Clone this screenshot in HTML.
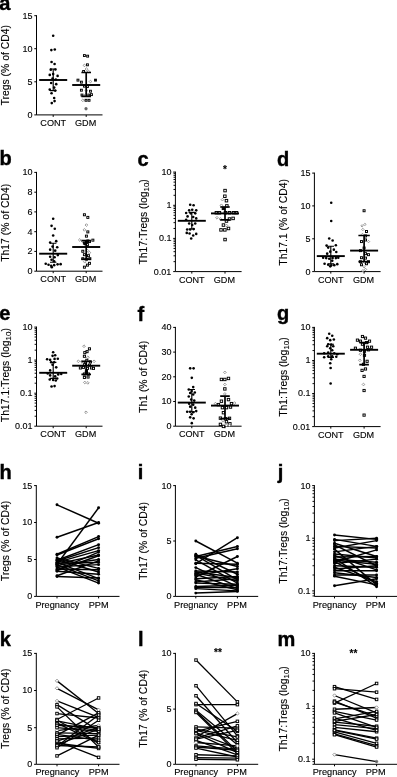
<!DOCTYPE html>
<html lang="en"><head><meta charset="utf-8"><title>Figure</title>
<style>html,body{margin:0;padding:0;background:#fff}svg{display:block}text{stroke:#000;stroke-width:.12px}</style></head><body>
<svg width="397" height="777" viewBox="0 0 397 777" font-family='"Liberation Sans", Arial, Helvetica, sans-serif' fill="#000">
<rect width="397" height="777" fill="#fff"/>
<g id="panel-a">
<path d="M36.5 15.2V114.9H102.5" fill="none" stroke="#000" stroke-width="1"/>
<path d="M34.3 15.7H36.5" stroke="#000" stroke-width="1"/>
<text x="32.5" y="18.6" font-size="9.0" text-anchor="end" font-weight="normal" >15</text>
<path d="M34.3 48.7H36.5" stroke="#000" stroke-width="1"/>
<text x="32.5" y="51.6" font-size="9.0" text-anchor="end" font-weight="normal" >10</text>
<path d="M34.3 81.8H36.5" stroke="#000" stroke-width="1"/>
<text x="32.5" y="84.7" font-size="9.0" text-anchor="end" font-weight="normal" >5</text>
<path d="M34.3 114.9H36.5" stroke="#000" stroke-width="1"/>
<text x="32.5" y="117.8" font-size="9.0" text-anchor="end" font-weight="normal" >0</text>
<path d="M53.2 114.9V116.9" stroke="#000" stroke-width="1"/>
<path d="M86.2 114.9V116.9" stroke="#000" stroke-width="1"/>
<circle cx="53.17" cy="35.79" r="1.3" fill="#000"/>
<circle cx="51.36" cy="50.1" r="1.3" fill="#000"/>
<circle cx="54.79" cy="49.5" r="1.3" fill="#000"/>
<circle cx="51.56" cy="61.99" r="1.3" fill="#000"/>
<circle cx="54.58" cy="64.01" r="1.3" fill="#000"/>
<circle cx="50.76" cy="69.65" r="1.3" fill="#000"/>
<circle cx="55.39" cy="69.45" r="1.3" fill="#000"/>
<circle cx="49.75" cy="74.89" r="1.3" fill="#000"/>
<circle cx="57.61" cy="75.89" r="1.3" fill="#000"/>
<circle cx="53.17" cy="74.08" r="1.3" fill="#000"/>
<circle cx="52.57" cy="78.51" r="1.3" fill="#000"/>
<circle cx="55.79" cy="79.52" r="1.3" fill="#000"/>
<circle cx="51.16" cy="82.95" r="1.3" fill="#000"/>
<circle cx="56.2" cy="84.16" r="1.3" fill="#000"/>
<circle cx="54.18" cy="87.58" r="1.3" fill="#000"/>
<circle cx="49.75" cy="89.6" r="1.3" fill="#000"/>
<circle cx="55.19" cy="90.6" r="1.3" fill="#000"/>
<circle cx="51.56" cy="93.22" r="1.3" fill="#000"/>
<circle cx="54.18" cy="98.06" r="1.3" fill="#000"/>
<circle cx="51.76" cy="103.1" r="1.3" fill="#000"/>
<circle cx="54.58" cy="101.08" r="1.3" fill="#000"/>
<rect x="83.46" y="54.59" width="1.9" height="1.9" fill="#fff" stroke="#000" stroke-width="0.95"/>
<rect x="86.68" y="55.2" width="1.9" height="1.9" fill="#fff" stroke="#000" stroke-width="0.95"/>
<rect x="86.48" y="63.86" width="1.9" height="1.9" fill="#fff" stroke="#000" stroke-width="0.95"/>
<path d="M83.06 65.42L84.41 64.07L85.76 65.42L84.41 66.77Z" fill="#fff" stroke="#7a7a7a" stroke-width="0.75"/>
<path d="M85.07 69.04L86.42 67.69L87.77 69.04L86.42 70.39Z" fill="#fff" stroke="#7a7a7a" stroke-width="0.75"/>
<rect x="82.65" y="70.51" width="1.9" height="1.9" fill="#fff" stroke="#000" stroke-width="0.95"/>
<path d="M87.09 71.46L88.44 70.11L89.79 71.46L88.44 72.81Z" fill="#fff" stroke="#7a7a7a" stroke-width="0.75"/>
<rect x="77.01" y="79.18" width="1.9" height="1.9" fill="#fff" stroke="#000" stroke-width="0.95"/>
<rect x="94.54" y="79.18" width="1.9" height="1.9" fill="#fff" stroke="#000" stroke-width="0.95"/>
<rect x="80.44" y="81.19" width="1.9" height="1.9" fill="#fff" stroke="#000" stroke-width="0.95"/>
<path d="M89.1 81.54L90.45 80.19L91.8 81.54L90.45 82.89Z" fill="#fff" stroke="#7a7a7a" stroke-width="0.75"/>
<rect x="83.46" y="85.22" width="1.9" height="1.9" fill="#fff" stroke="#000" stroke-width="0.95"/>
<rect x="86.48" y="85.62" width="1.9" height="1.9" fill="#fff" stroke="#000" stroke-width="0.95"/>
<rect x="80.44" y="89.25" width="1.9" height="1.9" fill="#fff" stroke="#000" stroke-width="0.95"/>
<path d="M85.07 90.6L86.42 89.25L87.77 90.6L86.42 91.95Z" fill="#fff" stroke="#7a7a7a" stroke-width="0.75"/>
<rect x="89.5" y="90.26" width="1.9" height="1.9" fill="#fff" stroke="#000" stroke-width="0.95"/>
<rect x="81.04" y="94.09" width="1.9" height="1.9" fill="#fff" stroke="#000" stroke-width="0.95"/>
<path d="M84.07 95.04L85.42 93.69L86.77 95.04L85.42 96.39Z" fill="#fff" stroke="#7a7a7a" stroke-width="0.75"/>
<rect x="87.89" y="94.09" width="1.9" height="1.9" fill="#fff" stroke="#000" stroke-width="0.95"/>
<rect x="90.51" y="93.68" width="1.9" height="1.9" fill="#fff" stroke="#000" stroke-width="0.95"/>
<path d="M81.45 100.28L82.8 98.93L84.15 100.28L82.8 101.63Z" fill="#fff" stroke="#7a7a7a" stroke-width="0.75"/>
<rect x="85.07" y="99.33" width="1.9" height="1.9" fill="#fff" stroke="#000" stroke-width="0.95"/>
<rect x="88.09" y="99.33" width="1.9" height="1.9" fill="#fff" stroke="#000" stroke-width="0.95"/>
<circle cx="86.02" cy="108.74" r="1.4" fill="#666" stroke="#666" stroke-width="0.4"/>
<path d="M39.2 80H67.2" stroke="#000" stroke-width="1.9"/>
<path d="M53.2 69V90.6M50 69H56.4M50 90.6H56.4" stroke="#000" stroke-width="1.15" fill="none"/>
<path d="M72.2 85H100.2" stroke="#000" stroke-width="1.9"/>
<path d="M86.2 72.5V96.3M81.4 72.5H91M81.4 96.3H91" stroke="#000" stroke-width="1.7" fill="none"/>
<text x="53.2" y="125.9" font-size="9.1" text-anchor="middle" font-weight="normal" >CONT</text>
<text x="85.6" y="125.9" font-size="9.1" text-anchor="middle" font-weight="normal" >GDM</text>
<text transform="translate(8.8 65.3) rotate(-90)" font-size="10.4" text-anchor="middle">Tregs (% of CD4)</text>
<text x="-0.7" y="10.1" font-size="20" text-anchor="start" font-weight="bold" style="stroke-width:.4px">a</text>
</g>
<g id="panel-b">
<path d="M36.5 171.9V271.2H102.5" fill="none" stroke="#000" stroke-width="1"/>
<path d="M34.3 172.4H36.5" stroke="#000" stroke-width="1"/>
<text x="32.5" y="175.3" font-size="9.0" text-anchor="end" font-weight="normal" >10</text>
<path d="M34.3 192.2H36.5" stroke="#000" stroke-width="1"/>
<text x="32.5" y="195.1" font-size="9.0" text-anchor="end" font-weight="normal" >8</text>
<path d="M34.3 211.9H36.5" stroke="#000" stroke-width="1"/>
<text x="32.5" y="214.8" font-size="9.0" text-anchor="end" font-weight="normal" >6</text>
<path d="M34.3 231.7H36.5" stroke="#000" stroke-width="1"/>
<text x="32.5" y="234.6" font-size="9.0" text-anchor="end" font-weight="normal" >4</text>
<path d="M34.3 251.4H36.5" stroke="#000" stroke-width="1"/>
<text x="32.5" y="254.3" font-size="9.0" text-anchor="end" font-weight="normal" >2</text>
<path d="M34.3 271.2H36.5" stroke="#000" stroke-width="1"/>
<text x="32.5" y="274.1" font-size="9.0" text-anchor="end" font-weight="normal" >0</text>
<path d="M53.2 271.2V273.2" stroke="#000" stroke-width="1"/>
<path d="M86.2 271.2V273.2" stroke="#000" stroke-width="1"/>
<circle cx="53.17" cy="218.8" r="1.3" fill="#000"/>
<circle cx="51.56" cy="225.86" r="1.3" fill="#000"/>
<circle cx="54.79" cy="228.68" r="1.3" fill="#000"/>
<circle cx="53.17" cy="235.53" r="1.3" fill="#000"/>
<circle cx="56.2" cy="241.17" r="1.3" fill="#000"/>
<circle cx="50.15" cy="242.58" r="1.3" fill="#000"/>
<circle cx="52.57" cy="246.61" r="1.3" fill="#000"/>
<circle cx="57.2" cy="247.22" r="1.3" fill="#000"/>
<circle cx="50.15" cy="249.63" r="1.3" fill="#000"/>
<circle cx="55.19" cy="250.64" r="1.3" fill="#000"/>
<circle cx="57.81" cy="255.08" r="1.3" fill="#000"/>
<circle cx="50.15" cy="256.69" r="1.3" fill="#000"/>
<circle cx="54.58" cy="257.29" r="1.3" fill="#000"/>
<circle cx="51.56" cy="259.71" r="1.3" fill="#000"/>
<circle cx="54.18" cy="261.32" r="1.3" fill="#000"/>
<circle cx="45.72" cy="263.74" r="1.3" fill="#000"/>
<circle cx="48.54" cy="264.75" r="1.3" fill="#000"/>
<circle cx="51.16" cy="265.76" r="1.3" fill="#000"/>
<circle cx="54.18" cy="265.15" r="1.3" fill="#000"/>
<circle cx="57.61" cy="264.35" r="1.3" fill="#000"/>
<circle cx="60.63" cy="264.14" r="1.3" fill="#000"/>
<circle cx="51.76" cy="267.17" r="1.3" fill="#000"/>
<rect x="83.41" y="213.77" width="2.0" height="2.0" fill="#fff" stroke="#000" stroke-width="0.95"/>
<rect x="86.83" y="216.39" width="2.0" height="2.0" fill="#fff" stroke="#000" stroke-width="0.95"/>
<path d="M85.07 225.05L86.42 223.7L87.77 225.05L86.42 226.4Z" fill="#fff" stroke="#7a7a7a" stroke-width="0.75"/>
<path d="M83.06 229.89L84.41 228.54L85.76 229.89L84.41 231.24Z" fill="#fff" stroke="#7a7a7a" stroke-width="0.75"/>
<rect x="86.83" y="230.9" width="2.0" height="2.0" fill="#fff" stroke="#000" stroke-width="0.95"/>
<rect x="85.42" y="235.13" width="2.0" height="2.0" fill="#fff" stroke="#000" stroke-width="0.95"/>
<path d="M78.42 239.96L79.77 238.61L81.12 239.96L79.77 241.31Z" fill="#fff" stroke="#7a7a7a" stroke-width="0.75"/>
<path d="M81.45 241.57L82.8 240.22L84.15 241.57L82.8 242.92Z" fill="#fff" stroke="#7a7a7a" stroke-width="0.75"/>
<rect x="88.45" y="240.57" width="2.0" height="2.0" fill="#fff" stroke="#000" stroke-width="0.95"/>
<rect x="91.87" y="239.16" width="2.0" height="2.0" fill="#fff" stroke="#000" stroke-width="0.95"/>
<rect x="83.41" y="242.19" width="2.0" height="2.0" fill="#fff" stroke="#000" stroke-width="0.95"/>
<rect x="85.42" y="240.98" width="2.0" height="2.0" fill="#000" stroke="#000" stroke-width="0.95"/>
<rect x="84.42" y="242.79" width="2.0" height="2.0" fill="#000" stroke="#000" stroke-width="0.95"/>
<rect x="86.83" y="239.97" width="2.0" height="2.0" fill="#000" stroke="#000" stroke-width="0.95"/>
<rect x="86.43" y="243.6" width="2.0" height="2.0" fill="#fff" stroke="#000" stroke-width="0.95"/>
<rect x="81.8" y="250.25" width="2.0" height="2.0" fill="#fff" stroke="#000" stroke-width="0.95"/>
<path d="M86.08 250.64L87.43 249.29L88.78 250.64L87.43 251.99Z" fill="#fff" stroke="#7a7a7a" stroke-width="0.75"/>
<path d="M88.1 252.66L89.45 251.31L90.8 252.66L89.45 254.01Z" fill="#fff" stroke="#7a7a7a" stroke-width="0.75"/>
<rect x="83.41" y="253.67" width="2.0" height="2.0" fill="#fff" stroke="#000" stroke-width="0.95"/>
<rect x="87.44" y="254.68" width="2.0" height="2.0" fill="#fff" stroke="#000" stroke-width="0.95"/>
<rect x="81.8" y="257.7" width="2.0" height="2.0" fill="#fff" stroke="#000" stroke-width="0.95"/>
<rect x="85.42" y="258.31" width="2.0" height="2.0" fill="#fff" stroke="#000" stroke-width="0.95"/>
<rect x="88.85" y="257.7" width="2.0" height="2.0" fill="#fff" stroke="#000" stroke-width="0.95"/>
<path d="M83.46 261.73L84.81 260.38L86.16 261.73L84.81 263.08Z" fill="#fff" stroke="#7a7a7a" stroke-width="0.75"/>
<rect x="88.45" y="262.34" width="2.0" height="2.0" fill="#fff" stroke="#000" stroke-width="0.95"/>
<rect x="86.43" y="264.15" width="2.0" height="2.0" fill="#fff" stroke="#000" stroke-width="0.95"/>
<rect x="83.41" y="266.17" width="2.0" height="2.0" fill="#fff" stroke="#000" stroke-width="0.95"/>
<path d="M39.2 253.7H67.2" stroke="#000" stroke-width="1.9"/>
<path d="M53.2 243.2V262.2M50 243.2H56.4M50 262.2H56.4" stroke="#000" stroke-width="1.15" fill="none"/>
<path d="M72.2 247H100.2" stroke="#000" stroke-width="1.9"/>
<path d="M86.2 240.6V259.2M81.4 240.6H91M81.4 259.2H91" stroke="#000" stroke-width="1.7" fill="none"/>
<text x="53.2" y="282.2" font-size="9.1" text-anchor="middle" font-weight="normal" >CONT</text>
<text x="85.6" y="282.2" font-size="9.1" text-anchor="middle" font-weight="normal" >GDM</text>
<text transform="translate(8.8 222.8) rotate(-90)" font-size="10.4" text-anchor="middle">Th17 (% of CD4)</text>
<text x="-0.5" y="165.3" font-size="20" text-anchor="start" font-weight="bold" style="stroke-width:.4px">b</text>
</g>
<g id="panel-c">
<path d="M175.4 171.6V271.6H241.6" fill="none" stroke="#000" stroke-width="1"/>
<path d="M173.2 172.1H175.4" stroke="#000" stroke-width="1"/>
<text x="171.4" y="175" font-size="9.0" text-anchor="end" font-weight="normal" >10</text>
<path d="M173.2 205.3H175.4" stroke="#000" stroke-width="1"/>
<text x="171.4" y="208.2" font-size="9.0" text-anchor="end" font-weight="normal" >1</text>
<path d="M173.2 238.4H175.4" stroke="#000" stroke-width="1"/>
<text x="171.4" y="241.3" font-size="9.0" text-anchor="end" font-weight="normal" >0.1</text>
<path d="M173.2 271.6H175.4" stroke="#000" stroke-width="1"/>
<text x="171.4" y="274.5" font-size="9.0" text-anchor="end" font-weight="normal" >0.01</text>
<path d="M173.5 261.65H175.4" stroke="#000" stroke-width="0.95"/>
<path d="M173.5 255.81H175.4" stroke="#000" stroke-width="0.95"/>
<path d="M173.5 251.67H175.4" stroke="#000" stroke-width="0.95"/>
<path d="M173.5 248.46H175.4" stroke="#000" stroke-width="0.95"/>
<path d="M173.5 245.83H175.4" stroke="#000" stroke-width="0.95"/>
<path d="M173.5 243.61H175.4" stroke="#000" stroke-width="0.95"/>
<path d="M173.5 241.68H175.4" stroke="#000" stroke-width="0.95"/>
<path d="M173.5 239.99H175.4" stroke="#000" stroke-width="0.95"/>
<path d="M173.5 228.48H175.4" stroke="#000" stroke-width="0.95"/>
<path d="M173.5 222.64H175.4" stroke="#000" stroke-width="0.95"/>
<path d="M173.5 218.5H175.4" stroke="#000" stroke-width="0.95"/>
<path d="M173.5 215.29H175.4" stroke="#000" stroke-width="0.95"/>
<path d="M173.5 212.66H175.4" stroke="#000" stroke-width="0.95"/>
<path d="M173.5 210.44H175.4" stroke="#000" stroke-width="0.95"/>
<path d="M173.5 208.51H175.4" stroke="#000" stroke-width="0.95"/>
<path d="M173.5 206.82H175.4" stroke="#000" stroke-width="0.95"/>
<path d="M173.5 195.31H175.4" stroke="#000" stroke-width="0.95"/>
<path d="M173.5 189.47H175.4" stroke="#000" stroke-width="0.95"/>
<path d="M173.5 185.33H175.4" stroke="#000" stroke-width="0.95"/>
<path d="M173.5 182.12H175.4" stroke="#000" stroke-width="0.95"/>
<path d="M173.5 179.49H175.4" stroke="#000" stroke-width="0.95"/>
<path d="M173.5 177.27H175.4" stroke="#000" stroke-width="0.95"/>
<path d="M173.5 175.34H175.4" stroke="#000" stroke-width="0.95"/>
<path d="M173.5 173.65H175.4" stroke="#000" stroke-width="0.95"/>
<path d="M191.8 271.6V273.6" stroke="#000" stroke-width="1"/>
<path d="M225 271.6V273.6" stroke="#000" stroke-width="1"/>
<circle cx="190.19" cy="204.7" r="1.3" fill="#000"/>
<circle cx="193.61" cy="205.3" r="1.3" fill="#000"/>
<circle cx="189.18" cy="210.34" r="1.3" fill="#000"/>
<circle cx="192.2" cy="209.74" r="1.3" fill="#000"/>
<circle cx="196.23" cy="210.34" r="1.3" fill="#000"/>
<circle cx="186.16" cy="212.96" r="1.3" fill="#000"/>
<circle cx="190.79" cy="213.36" r="1.3" fill="#000"/>
<circle cx="195.23" cy="213.36" r="1.3" fill="#000"/>
<circle cx="187.57" cy="216.39" r="1.3" fill="#000"/>
<circle cx="193.21" cy="216.99" r="1.3" fill="#000"/>
<circle cx="196.23" cy="218.4" r="1.3" fill="#000"/>
<circle cx="186.16" cy="219.81" r="1.3" fill="#000"/>
<circle cx="189.18" cy="223.44" r="1.3" fill="#000"/>
<circle cx="195.23" cy="223.44" r="1.3" fill="#000"/>
<circle cx="192.2" cy="225.05" r="1.3" fill="#000"/>
<circle cx="187.17" cy="229.48" r="1.3" fill="#000"/>
<circle cx="190.19" cy="229.48" r="1.3" fill="#000"/>
<circle cx="193.61" cy="229.08" r="1.3" fill="#000"/>
<circle cx="186.76" cy="232.91" r="1.3" fill="#000"/>
<circle cx="189.58" cy="233.51" r="1.3" fill="#000"/>
<circle cx="196.23" cy="233.92" r="1.3" fill="#000"/>
<circle cx="193.21" cy="235.53" r="1.3" fill="#000"/>
<circle cx="191.2" cy="238.55" r="1.3" fill="#000"/>
<rect x="223.8" y="189.34" width="2.5" height="2.5" fill="#fff" stroke="#000" stroke-width="0.95"/>
<rect x="223.6" y="194.98" width="2.5" height="2.5" fill="#fff" stroke="#000" stroke-width="0.95"/>
<path d="M221.08 199.66L222.43 198.31L223.78 199.66L222.43 201.01Z" fill="#fff" stroke="#7a7a7a" stroke-width="0.75"/>
<rect x="225.21" y="199.42" width="2.5" height="2.5" fill="#fff" stroke="#000" stroke-width="0.95"/>
<path d="M220.07 205.3L221.42 203.95L222.77 205.3L221.42 206.65Z" fill="#fff" stroke="#7a7a7a" stroke-width="0.75"/>
<rect x="225.61" y="204.66" width="2.5" height="2.5" fill="#fff" stroke="#000" stroke-width="0.95"/>
<rect x="222.19" y="207.07" width="2.5" height="2.5" fill="#000" stroke="#000" stroke-width="0.95"/>
<rect x="215.14" y="211.51" width="2.5" height="2.5" fill="#fff" stroke="#000" stroke-width="0.95"/>
<rect x="218.16" y="211.51" width="2.5" height="2.5" fill="#fff" stroke="#000" stroke-width="0.95"/>
<rect x="224.2" y="211.51" width="2.5" height="2.5" fill="#fff" stroke="#000" stroke-width="0.95"/>
<rect x="228.23" y="211.51" width="2.5" height="2.5" fill="#fff" stroke="#000" stroke-width="0.95"/>
<rect x="232.26" y="211.51" width="2.5" height="2.5" fill="#fff" stroke="#000" stroke-width="0.95"/>
<rect x="235.29" y="211.51" width="2.5" height="2.5" fill="#fff" stroke="#000" stroke-width="0.95"/>
<path d="M215.64 217.8L216.99 216.45L218.34 217.8L216.99 219.15Z" fill="#fff" stroke="#7a7a7a" stroke-width="0.75"/>
<path d="M219.07 219.01L220.42 217.66L221.77 219.01L220.42 220.36Z" fill="#fff" stroke="#7a7a7a" stroke-width="0.75"/>
<rect x="228.23" y="217.76" width="2.5" height="2.5" fill="#fff" stroke="#000" stroke-width="0.95"/>
<rect x="231.86" y="217.15" width="2.5" height="2.5" fill="#fff" stroke="#000" stroke-width="0.95"/>
<rect x="225.21" y="219.77" width="2.5" height="2.5" fill="#fff" stroke="#000" stroke-width="0.95"/>
<rect x="222.19" y="223.8" width="2.5" height="2.5" fill="#fff" stroke="#000" stroke-width="0.95"/>
<path d="M225.11 225.45L226.46 224.1L227.81 225.45L226.46 226.8Z" fill="#fff" stroke="#7a7a7a" stroke-width="0.75"/>
<rect x="219.77" y="228.64" width="2.5" height="2.5" fill="#fff" stroke="#000" stroke-width="0.95"/>
<rect x="223.6" y="228.64" width="2.5" height="2.5" fill="#fff" stroke="#000" stroke-width="0.95"/>
<rect x="227.23" y="227.23" width="2.5" height="2.5" fill="#fff" stroke="#000" stroke-width="0.95"/>
<rect x="223.8" y="238.31" width="2.5" height="2.5" fill="#fff" stroke="#000" stroke-width="0.95"/>
<path d="M177.8 220.8H205.8" stroke="#000" stroke-width="1.9"/>
<path d="M191.8 212.4V229M188.6 212.4H195M188.6 229H195" stroke="#000" stroke-width="1.15" fill="none"/>
<path d="M211 213.4H239" stroke="#000" stroke-width="1.9"/>
<path d="M225 207V219.8M220.2 207H229.8M220.2 219.8H229.8" stroke="#000" stroke-width="1.7" fill="none"/>
<text x="191.8" y="282.6" font-size="9.1" text-anchor="middle" font-weight="normal" >CONT</text>
<text x="224.4" y="282.6" font-size="9.1" text-anchor="middle" font-weight="normal" >GDM</text>
<text transform="translate(146.5 221.85) rotate(-90)" font-size="10.4" text-anchor="middle">Th17:Tregs (log<tspan font-size="8" dy="2.2">10</tspan><tspan dy="-2.2">)</tspan></text>
<text x="137.4" y="166.3" font-size="20" text-anchor="start" font-weight="bold" style="stroke-width:.4px">c</text>
<text x="225" y="172.5" font-size="10" text-anchor="middle" font-weight="bold" >*</text>
</g>
<g id="panel-d">
<path d="M314.4 172.6V271.6H380.6" fill="none" stroke="#000" stroke-width="1"/>
<path d="M312.2 173.1H314.4" stroke="#000" stroke-width="1"/>
<text x="310.4" y="176" font-size="9.0" text-anchor="end" font-weight="normal" >15</text>
<path d="M312.2 205.9H314.4" stroke="#000" stroke-width="1"/>
<text x="310.4" y="208.8" font-size="9.0" text-anchor="end" font-weight="normal" >10</text>
<path d="M312.2 238.8H314.4" stroke="#000" stroke-width="1"/>
<text x="310.4" y="241.7" font-size="9.0" text-anchor="end" font-weight="normal" >5</text>
<path d="M312.2 271.6H314.4" stroke="#000" stroke-width="1"/>
<text x="310.4" y="274.5" font-size="9.0" text-anchor="end" font-weight="normal" >0</text>
<path d="M330.8 271.6V273.6" stroke="#000" stroke-width="1"/>
<path d="M364.1 271.6V273.6" stroke="#000" stroke-width="1"/>
<circle cx="331.23" cy="202.68" r="1.3" fill="#000"/>
<circle cx="331.23" cy="221.02" r="1.3" fill="#000"/>
<circle cx="329.22" cy="238.55" r="1.3" fill="#000"/>
<circle cx="332.64" cy="240.57" r="1.3" fill="#000"/>
<circle cx="326.6" cy="245.6" r="1.3" fill="#000"/>
<circle cx="335.87" cy="245.2" r="1.3" fill="#000"/>
<circle cx="328.21" cy="247.62" r="1.3" fill="#000"/>
<circle cx="333.85" cy="249.63" r="1.3" fill="#000"/>
<circle cx="330.23" cy="251.65" r="1.3" fill="#000"/>
<circle cx="327.2" cy="253.66" r="1.3" fill="#000"/>
<circle cx="336.27" cy="252.05" r="1.3" fill="#000"/>
<circle cx="323.17" cy="257.7" r="1.3" fill="#000"/>
<circle cx="326.2" cy="258.1" r="1.3" fill="#000"/>
<circle cx="329.22" cy="258.7" r="1.3" fill="#000"/>
<circle cx="332.64" cy="258.1" r="1.3" fill="#000"/>
<circle cx="335.87" cy="258.1" r="1.3" fill="#000"/>
<circle cx="338.29" cy="257.7" r="1.3" fill="#000"/>
<circle cx="332.24" cy="260.72" r="1.3" fill="#000"/>
<circle cx="324.58" cy="263.74" r="1.3" fill="#000"/>
<circle cx="328.21" cy="264.75" r="1.3" fill="#000"/>
<circle cx="331.23" cy="265.35" r="1.3" fill="#000"/>
<circle cx="334.26" cy="265.15" r="1.3" fill="#000"/>
<circle cx="337.28" cy="264.14" r="1.3" fill="#000"/>
<circle cx="330.23" cy="266.36" r="1.3" fill="#000"/>
<rect x="363.08" y="209.74" width="2.0" height="2.0" fill="#fff" stroke="#000" stroke-width="0.95"/>
<path d="M363.69 224.45L364.89 223.25L366.09 224.45L364.89 225.65Z" fill="#fff" stroke="#7a7a7a" stroke-width="0.75"/>
<path d="M360.87 225.86L362.07 224.66L363.27 225.86L362.07 227.06Z" fill="#fff" stroke="#7a7a7a" stroke-width="0.75"/>
<path d="M361.67 229.48L362.87 228.28L364.07 229.48L362.87 230.68Z" fill="#fff" stroke="#7a7a7a" stroke-width="0.75"/>
<rect x="365.5" y="230.5" width="2.0" height="2.0" fill="#fff" stroke="#000" stroke-width="0.95"/>
<path d="M361.27 234.52L362.47 233.32L363.67 234.52L362.47 235.72Z" fill="#fff" stroke="#7a7a7a" stroke-width="0.75"/>
<rect x="364.49" y="234.93" width="2.0" height="2.0" fill="#fff" stroke="#000" stroke-width="0.95"/>
<rect x="364.49" y="238.96" width="2.0" height="2.0" fill="#fff" stroke="#000" stroke-width="0.95"/>
<rect x="360.46" y="240.57" width="2.0" height="2.0" fill="#fff" stroke="#000" stroke-width="0.95"/>
<path d="M367.31 241.57L368.51 240.37L369.71 241.57L368.51 242.77Z" fill="#fff" stroke="#7a7a7a" stroke-width="0.75"/>
<rect x="363.08" y="247.02" width="2.0" height="2.0" fill="#fff" stroke="#000" stroke-width="0.95"/>
<rect x="359.45" y="249.64" width="2.0" height="2.0" fill="#fff" stroke="#000" stroke-width="0.95"/>
<rect x="364.49" y="252.66" width="2.0" height="2.0" fill="#fff" stroke="#000" stroke-width="0.95"/>
<rect x="367.51" y="253.67" width="2.0" height="2.0" fill="#fff" stroke="#000" stroke-width="0.95"/>
<rect x="360.46" y="256.7" width="2.0" height="2.0" fill="#fff" stroke="#000" stroke-width="0.95"/>
<rect x="364.49" y="257.1" width="2.0" height="2.0" fill="#fff" stroke="#000" stroke-width="0.95"/>
<rect x="359.45" y="260.73" width="2.0" height="2.0" fill="#fff" stroke="#000" stroke-width="0.95"/>
<path d="M363.28 262.33L364.48 261.13L365.68 262.33L364.48 263.53Z" fill="#fff" stroke="#7a7a7a" stroke-width="0.75"/>
<rect x="367.51" y="260.73" width="2.0" height="2.0" fill="#fff" stroke="#000" stroke-width="0.95"/>
<rect x="360.46" y="263.75" width="2.0" height="2.0" fill="#fff" stroke="#000" stroke-width="0.95"/>
<rect x="365.5" y="262.74" width="2.0" height="2.0" fill="#fff" stroke="#000" stroke-width="0.95"/>
<path d="M362.88 266.76L364.08 265.56L365.28 266.76L364.08 267.96Z" fill="#fff" stroke="#7a7a7a" stroke-width="0.75"/>
<path d="M364.29 269.38L365.49 268.18L366.69 269.38L365.49 270.58Z" fill="#fff" stroke="#7a7a7a" stroke-width="0.75"/>
<path d="M361.67 270.79L362.87 269.59L364.07 270.79L362.87 271.99Z" fill="#fff" stroke="#7a7a7a" stroke-width="0.75"/>
<path d="M316.8 256.1H344.8" stroke="#000" stroke-width="1.9"/>
<path d="M330.8 246.2V263.8M327.6 246.2H334M327.6 263.8H334" stroke="#000" stroke-width="1.15" fill="none"/>
<path d="M350.1 250.6H378.1" stroke="#000" stroke-width="1.9"/>
<path d="M364.1 235.5V261.7M358.4 235.5H369.8M358.4 261.7H369.8" stroke="#000" stroke-width="1.7" fill="none"/>
<text x="330.8" y="282.6" font-size="9.1" text-anchor="middle" font-weight="normal" >CONT</text>
<text x="363.5" y="282.6" font-size="9.1" text-anchor="middle" font-weight="normal" >GDM</text>
<text transform="translate(287.3 222.35) rotate(-90)" font-size="10.4" text-anchor="middle">Th17.1 (% of CD4)</text>
<text x="277" y="166" font-size="20" text-anchor="start" font-weight="bold" style="stroke-width:.4px">d</text>
</g>
<g id="panel-e">
<path d="M36.5 326.6V426.2H102.5" fill="none" stroke="#000" stroke-width="1"/>
<path d="M34.3 327.1H36.5" stroke="#000" stroke-width="1"/>
<text x="32.5" y="330" font-size="9.0" text-anchor="end" font-weight="normal" >10</text>
<path d="M34.3 360.1H36.5" stroke="#000" stroke-width="1"/>
<text x="32.5" y="363" font-size="9.0" text-anchor="end" font-weight="normal" >1</text>
<path d="M34.3 393.2H36.5" stroke="#000" stroke-width="1"/>
<text x="32.5" y="396.1" font-size="9.0" text-anchor="end" font-weight="normal" >0.1</text>
<path d="M34.3 426.2H36.5" stroke="#000" stroke-width="1"/>
<text x="32.5" y="429.1" font-size="9.0" text-anchor="end" font-weight="normal" >0.01</text>
<path d="M34.6 416.22H36.5" stroke="#000" stroke-width="0.95"/>
<path d="M34.6 410.4H36.5" stroke="#000" stroke-width="0.95"/>
<path d="M34.6 406.27H36.5" stroke="#000" stroke-width="0.95"/>
<path d="M34.6 403.07H36.5" stroke="#000" stroke-width="0.95"/>
<path d="M34.6 400.46H36.5" stroke="#000" stroke-width="0.95"/>
<path d="M34.6 398.25H36.5" stroke="#000" stroke-width="0.95"/>
<path d="M34.6 396.33H36.5" stroke="#000" stroke-width="0.95"/>
<path d="M34.6 394.64H36.5" stroke="#000" stroke-width="0.95"/>
<path d="M34.6 383.19H36.5" stroke="#000" stroke-width="0.95"/>
<path d="M34.6 377.37H36.5" stroke="#000" stroke-width="0.95"/>
<path d="M34.6 373.24H36.5" stroke="#000" stroke-width="0.95"/>
<path d="M34.6 370.04H36.5" stroke="#000" stroke-width="0.95"/>
<path d="M34.6 367.43H36.5" stroke="#000" stroke-width="0.95"/>
<path d="M34.6 365.22H36.5" stroke="#000" stroke-width="0.95"/>
<path d="M34.6 363.3H36.5" stroke="#000" stroke-width="0.95"/>
<path d="M34.6 361.61H36.5" stroke="#000" stroke-width="0.95"/>
<path d="M34.6 350.16H36.5" stroke="#000" stroke-width="0.95"/>
<path d="M34.6 344.34H36.5" stroke="#000" stroke-width="0.95"/>
<path d="M34.6 340.21H36.5" stroke="#000" stroke-width="0.95"/>
<path d="M34.6 337.01H36.5" stroke="#000" stroke-width="0.95"/>
<path d="M34.6 334.4H36.5" stroke="#000" stroke-width="0.95"/>
<path d="M34.6 332.19H36.5" stroke="#000" stroke-width="0.95"/>
<path d="M34.6 330.27H36.5" stroke="#000" stroke-width="0.95"/>
<path d="M34.6 328.58H36.5" stroke="#000" stroke-width="0.95"/>
<path d="M53.2 426.2V428.2" stroke="#000" stroke-width="1"/>
<path d="M86.2 426.2V428.2" stroke="#000" stroke-width="1"/>
<circle cx="53.17" cy="352.24" r="1.3" fill="#000"/>
<circle cx="52.57" cy="355.87" r="1.3" fill="#000"/>
<circle cx="55.19" cy="355.26" r="1.3" fill="#000"/>
<circle cx="47.13" cy="359.29" r="1.3" fill="#000"/>
<circle cx="50.15" cy="359.9" r="1.3" fill="#000"/>
<circle cx="54.58" cy="358.89" r="1.3" fill="#000"/>
<circle cx="57.81" cy="358.69" r="1.3" fill="#000"/>
<circle cx="51.16" cy="362.32" r="1.3" fill="#000"/>
<circle cx="54.18" cy="362.32" r="1.3" fill="#000"/>
<circle cx="52.57" cy="364.74" r="1.3" fill="#000"/>
<circle cx="56.2" cy="367.36" r="1.3" fill="#000"/>
<circle cx="50.15" cy="370.38" r="1.3" fill="#000"/>
<circle cx="47.73" cy="373.4" r="1.3" fill="#000"/>
<circle cx="58.21" cy="374.41" r="1.3" fill="#000"/>
<circle cx="61.23" cy="374.01" r="1.3" fill="#000"/>
<circle cx="50.15" cy="375.42" r="1.3" fill="#000"/>
<circle cx="55.19" cy="376.42" r="1.3" fill="#000"/>
<circle cx="49.75" cy="379.45" r="1.3" fill="#000"/>
<circle cx="53.17" cy="380.05" r="1.3" fill="#000"/>
<circle cx="57.2" cy="378.44" r="1.3" fill="#000"/>
<circle cx="55.79" cy="380.45" r="1.3" fill="#000"/>
<circle cx="51.56" cy="386.5" r="1.3" fill="#000"/>
<circle cx="54.58" cy="386.1" r="1.3" fill="#000"/>
<path d="M82.66 346.2L84.01 344.85L85.36 346.2L84.01 347.55Z" fill="#fff" stroke="#7a7a7a" stroke-width="0.75"/>
<rect x="88.4" y="347.77" width="2.1" height="2.1" fill="#fff" stroke="#000" stroke-width="0.95"/>
<rect x="85.98" y="350.59" width="2.1" height="2.1" fill="#fff" stroke="#000" stroke-width="0.95"/>
<rect x="83.76" y="351.59" width="2.1" height="2.1" fill="#fff" stroke="#000" stroke-width="0.95"/>
<rect x="83.36" y="355.22" width="2.1" height="2.1" fill="#fff" stroke="#000" stroke-width="0.95"/>
<path d="M86.48 357.28L87.83 355.93L89.18 357.28L87.83 358.63Z" fill="#fff" stroke="#7a7a7a" stroke-width="0.75"/>
<path d="M77.01 361.31L78.36 359.96L79.71 361.31L78.36 362.66Z" fill="#fff" stroke="#7a7a7a" stroke-width="0.75"/>
<path d="M80.64 361.91L81.99 360.56L83.34 361.91L81.99 363.26Z" fill="#fff" stroke="#7a7a7a" stroke-width="0.75"/>
<rect x="84.37" y="361.27" width="2.1" height="2.1" fill="#fff" stroke="#000" stroke-width="0.95"/>
<rect x="89.4" y="360.86" width="2.1" height="2.1" fill="#fff" stroke="#000" stroke-width="0.95"/>
<path d="M92.73 361.31L94.08 359.96L95.43 361.31L94.08 362.66Z" fill="#fff" stroke="#7a7a7a" stroke-width="0.75"/>
<rect x="82.35" y="366.31" width="2.1" height="2.1" fill="#fff" stroke="#000" stroke-width="0.95"/>
<rect x="86.38" y="367.31" width="2.1" height="2.1" fill="#fff" stroke="#000" stroke-width="0.95"/>
<rect x="90.41" y="366.91" width="2.1" height="2.1" fill="#fff" stroke="#000" stroke-width="0.95"/>
<rect x="92.43" y="367.31" width="2.1" height="2.1" fill="#fff" stroke="#000" stroke-width="0.95"/>
<rect x="79.33" y="366.91" width="2.1" height="2.1" fill="#fff" stroke="#000" stroke-width="0.95"/>
<rect x="85.37" y="369.73" width="2.1" height="2.1" fill="#fff" stroke="#000" stroke-width="0.95"/>
<rect x="83.36" y="372.96" width="2.1" height="2.1" fill="#fff" stroke="#000" stroke-width="0.95"/>
<rect x="87.39" y="372.96" width="2.1" height="2.1" fill="#fff" stroke="#000" stroke-width="0.95"/>
<rect x="83.36" y="376.38" width="2.1" height="2.1" fill="#fff" stroke="#000" stroke-width="0.95"/>
<rect x="86.99" y="375.98" width="2.1" height="2.1" fill="#fff" stroke="#000" stroke-width="0.95"/>
<path d="M83.46 382.47L84.81 381.12L86.16 382.47L84.81 383.82Z" fill="#fff" stroke="#7a7a7a" stroke-width="0.75"/>
<path d="M86.48 382.87L87.83 381.52L89.18 382.87L87.83 384.22Z" fill="#fff" stroke="#7a7a7a" stroke-width="0.75"/>
<path d="M84.67 412.29L86.02 410.94L87.37 412.29L86.02 413.64Z" fill="#fff" stroke="#7a7a7a" stroke-width="0.75"/>
<rect x="83.36" y="363.69" width="2.1" height="2.1" fill="#fff" stroke="#000" stroke-width="0.95"/>
<rect x="88.4" y="364.09" width="2.1" height="2.1" fill="#fff" stroke="#000" stroke-width="0.95"/>
<rect x="85.78" y="359.25" width="2.1" height="2.1" fill="#fff" stroke="#000" stroke-width="0.95"/>
<rect x="85.37" y="371.75" width="2.1" height="2.1" fill="#000" stroke="#000" stroke-width="0.95"/>
<path d="M39.2 372.8H67.2" stroke="#000" stroke-width="1.9"/>
<path d="M53.2 362.3V378.4M50 362.3H56.4M50 378.4H56.4" stroke="#000" stroke-width="1.15" fill="none"/>
<path d="M72.2 365.7H100.2" stroke="#000" stroke-width="1.9"/>
<path d="M86.2 361.3V374.4M81.4 361.3H91M81.4 374.4H91" stroke="#000" stroke-width="1.7" fill="none"/>
<text x="53.2" y="437.2" font-size="9.1" text-anchor="middle" font-weight="normal" >CONT</text>
<text x="85.6" y="437.2" font-size="9.1" text-anchor="middle" font-weight="normal" >GDM</text>
<text transform="translate(8.8 375.15) rotate(-90)" font-size="10.4" text-anchor="middle">Th17.1:Tregs (log<tspan font-size="8" dy="2.2">10</tspan><tspan dy="-2.2">)</tspan></text>
<text x="-0.8" y="320.4" font-size="20" text-anchor="start" font-weight="bold" style="stroke-width:.4px">e</text>
</g>
<g id="panel-f">
<path d="M175.4 326.9V426.2H241.6" fill="none" stroke="#000" stroke-width="1"/>
<path d="M173.2 327.4H175.4" stroke="#000" stroke-width="1"/>
<text x="171.4" y="330.3" font-size="9.0" text-anchor="end" font-weight="normal" >40</text>
<path d="M173.2 352.1H175.4" stroke="#000" stroke-width="1"/>
<text x="171.4" y="355" font-size="9.0" text-anchor="end" font-weight="normal" >30</text>
<path d="M173.2 376.8H175.4" stroke="#000" stroke-width="1"/>
<text x="171.4" y="379.7" font-size="9.0" text-anchor="end" font-weight="normal" >20</text>
<path d="M173.2 401.5H175.4" stroke="#000" stroke-width="1"/>
<text x="171.4" y="404.4" font-size="9.0" text-anchor="end" font-weight="normal" >10</text>
<path d="M173.2 426.2H175.4" stroke="#000" stroke-width="1"/>
<text x="171.4" y="429.1" font-size="9.0" text-anchor="end" font-weight="normal" >0</text>
<path d="M191.8 426.2V428.2" stroke="#000" stroke-width="1"/>
<path d="M225 426.2V428.2" stroke="#000" stroke-width="1"/>
<circle cx="190.19" cy="368.36" r="1.3" fill="#000"/>
<circle cx="193.61" cy="368.36" r="1.3" fill="#000"/>
<circle cx="191.8" cy="377.83" r="1.3" fill="#000"/>
<circle cx="193.21" cy="387.1" r="1.3" fill="#000"/>
<circle cx="188.78" cy="389.52" r="1.3" fill="#000"/>
<circle cx="191.6" cy="390.93" r="1.3" fill="#000"/>
<circle cx="190.19" cy="392.95" r="1.3" fill="#000"/>
<circle cx="194.82" cy="392.54" r="1.3" fill="#000"/>
<circle cx="193.21" cy="394.56" r="1.3" fill="#000"/>
<circle cx="188.78" cy="396.57" r="1.3" fill="#000"/>
<circle cx="191.2" cy="399.6" r="1.3" fill="#000"/>
<circle cx="194.22" cy="400.6" r="1.3" fill="#000"/>
<circle cx="189.18" cy="403.63" r="1.3" fill="#000"/>
<circle cx="193.21" cy="404.63" r="1.3" fill="#000"/>
<circle cx="190.19" cy="406.65" r="1.3" fill="#000"/>
<circle cx="195.23" cy="407.66" r="1.3" fill="#000"/>
<circle cx="187.17" cy="411.69" r="1.3" fill="#000"/>
<circle cx="190.19" cy="411.69" r="1.3" fill="#000"/>
<circle cx="193.21" cy="412.29" r="1.3" fill="#000"/>
<circle cx="196.23" cy="411.08" r="1.3" fill="#000"/>
<circle cx="191.6" cy="414.31" r="1.3" fill="#000"/>
<circle cx="190.19" cy="417.33" r="1.3" fill="#000"/>
<circle cx="193.61" cy="418.34" r="1.3" fill="#000"/>
<circle cx="191.8" cy="423.17" r="1.3" fill="#000"/>
<path d="M223.5 372.39L224.85 371.04L226.2 372.39L224.85 373.74Z" fill="#fff" stroke="#7a7a7a" stroke-width="0.75"/>
<rect x="220.22" y="378.25" width="2.4" height="2.4" fill="#fff" stroke="#000" stroke-width="0.95"/>
<rect x="223.65" y="378.25" width="2.4" height="2.4" fill="#fff" stroke="#000" stroke-width="0.95"/>
<rect x="227.28" y="377.24" width="2.4" height="2.4" fill="#fff" stroke="#000" stroke-width="0.95"/>
<path d="M223.5 384.48L224.85 383.13L226.2 384.48L224.85 385.83Z" fill="#fff" stroke="#7a7a7a" stroke-width="0.75"/>
<rect x="223.65" y="387.72" width="2.4" height="2.4" fill="#fff" stroke="#000" stroke-width="0.95"/>
<path d="M223.5 393.95L224.85 392.6L226.2 393.95L224.85 395.3Z" fill="#fff" stroke="#7a7a7a" stroke-width="0.75"/>
<rect x="227.28" y="398.4" width="2.4" height="2.4" fill="#fff" stroke="#000" stroke-width="0.95"/>
<rect x="220.22" y="400.01" width="2.4" height="2.4" fill="#fff" stroke="#000" stroke-width="0.95"/>
<path d="M214.03 403.63L215.38 402.28L216.73 403.63L215.38 404.98Z" fill="#fff" stroke="#7a7a7a" stroke-width="0.75"/>
<rect x="217.2" y="403.43" width="2.4" height="2.4" fill="#fff" stroke="#000" stroke-width="0.95"/>
<rect x="230.3" y="402.43" width="2.4" height="2.4" fill="#fff" stroke="#000" stroke-width="0.95"/>
<path d="M233.17 403.02L234.52 401.67L235.87 403.02L234.52 404.37Z" fill="#fff" stroke="#7a7a7a" stroke-width="0.75"/>
<rect x="221.23" y="406.46" width="2.4" height="2.4" fill="#fff" stroke="#000" stroke-width="0.95"/>
<rect x="225.26" y="406.46" width="2.4" height="2.4" fill="#fff" stroke="#000" stroke-width="0.95"/>
<rect x="229.29" y="405.85" width="2.4" height="2.4" fill="#fff" stroke="#000" stroke-width="0.95"/>
<rect x="222.24" y="411.5" width="2.4" height="2.4" fill="#fff" stroke="#000" stroke-width="0.95"/>
<rect x="219.22" y="416.94" width="2.4" height="2.4" fill="#fff" stroke="#000" stroke-width="0.95"/>
<rect x="224.25" y="417.54" width="2.4" height="2.4" fill="#fff" stroke="#000" stroke-width="0.95"/>
<rect x="228.28" y="417.14" width="2.4" height="2.4" fill="#fff" stroke="#000" stroke-width="0.95"/>
<path d="M221.69 420.76L223.04 419.41L224.39 420.76L223.04 422.11Z" fill="#fff" stroke="#7a7a7a" stroke-width="0.75"/>
<rect x="225.26" y="420.56" width="2.4" height="2.4" fill="#fff" stroke="#000" stroke-width="0.95"/>
<rect x="219.22" y="423.18" width="2.4" height="2.4" fill="#fff" stroke="#000" stroke-width="0.95"/>
<rect x="228.69" y="422.58" width="2.4" height="2.4" fill="#fff" stroke="#000" stroke-width="0.95"/>
<rect x="222.24" y="425.2" width="2.4" height="2.4" fill="#fff" stroke="#000" stroke-width="0.95"/>
<path d="M225.11 425.19L226.46 423.84L227.81 425.19L226.46 426.54Z" fill="#fff" stroke="#7a7a7a" stroke-width="0.75"/>
<path d="M228.13 425.19L229.48 423.84L230.83 425.19L229.48 426.54Z" fill="#fff" stroke="#7a7a7a" stroke-width="0.75"/>
<path d="M177.8 402.6H205.8" stroke="#000" stroke-width="1.9"/>
<path d="M191.8 389.5V411.7M188.6 389.5H195M188.6 411.7H195" stroke="#000" stroke-width="1.15" fill="none"/>
<path d="M211 405.6H239" stroke="#000" stroke-width="1.9"/>
<path d="M225 396.2V418.7M220.2 396.2H229.8M220.2 418.7H229.8" stroke="#000" stroke-width="1.7" fill="none"/>
<text x="191.8" y="437.2" font-size="9.1" text-anchor="middle" font-weight="normal" >CONT</text>
<text x="224.4" y="437.2" font-size="9.1" text-anchor="middle" font-weight="normal" >GDM</text>
<text transform="translate(146.5 376.8) rotate(-90)" font-size="10.4" text-anchor="middle">Th1 (% of CD4)</text>
<text x="137.6" y="320.5" font-size="20" text-anchor="start" font-weight="bold" style="stroke-width:.4px">f</text>
</g>
<g id="panel-g">
<path d="M314.4 326.9V426.6H380.6" fill="none" stroke="#000" stroke-width="1"/>
<path d="M312.2 327.4H314.4" stroke="#000" stroke-width="1"/>
<text x="310.4" y="330.3" font-size="9.0" text-anchor="end" font-weight="normal" >10</text>
<path d="M312.2 360.5H314.4" stroke="#000" stroke-width="1"/>
<text x="310.4" y="363.4" font-size="9.0" text-anchor="end" font-weight="normal" >1</text>
<path d="M312.2 393.5H314.4" stroke="#000" stroke-width="1"/>
<text x="310.4" y="396.4" font-size="9.0" text-anchor="end" font-weight="normal" >0.1</text>
<path d="M312.2 426.6H314.4" stroke="#000" stroke-width="1"/>
<text x="310.4" y="429.5" font-size="9.0" text-anchor="end" font-weight="normal" >0.01</text>
<path d="M312.5 416.68H314.4" stroke="#000" stroke-width="0.95"/>
<path d="M312.5 410.86H314.4" stroke="#000" stroke-width="0.95"/>
<path d="M312.5 406.73H314.4" stroke="#000" stroke-width="0.95"/>
<path d="M312.5 403.53H314.4" stroke="#000" stroke-width="0.95"/>
<path d="M312.5 400.91H314.4" stroke="#000" stroke-width="0.95"/>
<path d="M312.5 398.69H314.4" stroke="#000" stroke-width="0.95"/>
<path d="M312.5 396.77H314.4" stroke="#000" stroke-width="0.95"/>
<path d="M312.5 395.08H314.4" stroke="#000" stroke-width="0.95"/>
<path d="M312.5 383.61H314.4" stroke="#000" stroke-width="0.95"/>
<path d="M312.5 377.79H314.4" stroke="#000" stroke-width="0.95"/>
<path d="M312.5 373.66H314.4" stroke="#000" stroke-width="0.95"/>
<path d="M312.5 370.46H314.4" stroke="#000" stroke-width="0.95"/>
<path d="M312.5 367.84H314.4" stroke="#000" stroke-width="0.95"/>
<path d="M312.5 365.62H314.4" stroke="#000" stroke-width="0.95"/>
<path d="M312.5 363.7H314.4" stroke="#000" stroke-width="0.95"/>
<path d="M312.5 362.01H314.4" stroke="#000" stroke-width="0.95"/>
<path d="M312.5 350.54H314.4" stroke="#000" stroke-width="0.95"/>
<path d="M312.5 344.72H314.4" stroke="#000" stroke-width="0.95"/>
<path d="M312.5 340.59H314.4" stroke="#000" stroke-width="0.95"/>
<path d="M312.5 337.39H314.4" stroke="#000" stroke-width="0.95"/>
<path d="M312.5 334.77H314.4" stroke="#000" stroke-width="0.95"/>
<path d="M312.5 332.55H314.4" stroke="#000" stroke-width="0.95"/>
<path d="M312.5 330.63H314.4" stroke="#000" stroke-width="0.95"/>
<path d="M312.5 328.94H314.4" stroke="#000" stroke-width="0.95"/>
<path d="M330.8 426.6V428.6" stroke="#000" stroke-width="1"/>
<path d="M364.1 426.6V428.6" stroke="#000" stroke-width="1"/>
<circle cx="329.22" cy="333.7" r="1.3" fill="#000"/>
<circle cx="332.24" cy="335.72" r="1.3" fill="#000"/>
<circle cx="327.2" cy="338.14" r="1.3" fill="#000"/>
<circle cx="330.23" cy="340.15" r="1.3" fill="#000"/>
<circle cx="333.85" cy="339.55" r="1.3" fill="#000"/>
<circle cx="328.21" cy="344.18" r="1.3" fill="#000"/>
<circle cx="331.23" cy="344.58" r="1.3" fill="#000"/>
<circle cx="327.2" cy="346.2" r="1.3" fill="#000"/>
<circle cx="333.25" cy="346.2" r="1.3" fill="#000"/>
<circle cx="330.23" cy="348.21" r="1.3" fill="#000"/>
<circle cx="332.24" cy="350.23" r="1.3" fill="#000"/>
<circle cx="324.18" cy="353.25" r="1.3" fill="#000"/>
<circle cx="328.21" cy="352.64" r="1.3" fill="#000"/>
<circle cx="334.26" cy="353.25" r="1.3" fill="#000"/>
<circle cx="337.28" cy="354.26" r="1.3" fill="#000"/>
<circle cx="324.18" cy="357.28" r="1.3" fill="#000"/>
<circle cx="328.21" cy="356.27" r="1.3" fill="#000"/>
<circle cx="332.24" cy="356.27" r="1.3" fill="#000"/>
<circle cx="336.27" cy="356.68" r="1.3" fill="#000"/>
<circle cx="331.23" cy="359.29" r="1.3" fill="#000"/>
<circle cx="330.23" cy="363.32" r="1.3" fill="#000"/>
<circle cx="330.63" cy="367.96" r="1.3" fill="#000"/>
<circle cx="330.63" cy="383.48" r="1.3" fill="#000"/>
<rect x="361.37" y="335.42" width="2.2" height="2.2" fill="#fff" stroke="#000" stroke-width="0.95"/>
<rect x="364.39" y="337.04" width="2.2" height="2.2" fill="#fff" stroke="#000" stroke-width="0.95"/>
<rect x="356.33" y="339.05" width="2.2" height="2.2" fill="#fff" stroke="#000" stroke-width="0.95"/>
<rect x="359.35" y="340.06" width="2.2" height="2.2" fill="#fff" stroke="#000" stroke-width="0.95"/>
<rect x="368.42" y="340.06" width="2.2" height="2.2" fill="#fff" stroke="#000" stroke-width="0.95"/>
<rect x="365.4" y="341.47" width="2.2" height="2.2" fill="#fff" stroke="#000" stroke-width="0.95"/>
<rect x="361.37" y="343.08" width="2.2" height="2.2" fill="#fff" stroke="#000" stroke-width="0.95"/>
<rect x="366.41" y="346.1" width="2.2" height="2.2" fill="#fff" stroke="#000" stroke-width="0.95"/>
<rect x="370.44" y="346.1" width="2.2" height="2.2" fill="#fff" stroke="#000" stroke-width="0.95"/>
<rect x="354.32" y="347.11" width="2.2" height="2.2" fill="#fff" stroke="#000" stroke-width="0.95"/>
<rect x="359.35" y="349.13" width="2.2" height="2.2" fill="#fff" stroke="#000" stroke-width="0.95"/>
<rect x="363.38" y="350.13" width="2.2" height="2.2" fill="#fff" stroke="#000" stroke-width="0.95"/>
<rect x="367.41" y="348.72" width="2.2" height="2.2" fill="#fff" stroke="#000" stroke-width="0.95"/>
<path d="M359.1 354.26L360.45 352.91L361.8 354.26L360.45 355.61Z" fill="#fff" stroke="#7a7a7a" stroke-width="0.75"/>
<rect x="363.38" y="354.16" width="2.2" height="2.2" fill="#fff" stroke="#000" stroke-width="0.95"/>
<path d="M358.5 360.3L359.85 358.95L361.2 360.3L359.85 361.65Z" fill="#fff" stroke="#7a7a7a" stroke-width="0.75"/>
<rect x="366" y="360.21" width="2.2" height="2.2" fill="#fff" stroke="#000" stroke-width="0.95"/>
<rect x="362.38" y="363.23" width="2.2" height="2.2" fill="#fff" stroke="#000" stroke-width="0.95"/>
<rect x="364.39" y="367.87" width="2.2" height="2.2" fill="#fff" stroke="#000" stroke-width="0.95"/>
<rect x="360.97" y="369.28" width="2.2" height="2.2" fill="#fff" stroke="#000" stroke-width="0.95"/>
<rect x="362.98" y="375.32" width="2.2" height="2.2" fill="#fff" stroke="#000" stroke-width="0.95"/>
<path d="M362.13 384.48L363.48 383.13L364.83 384.48L363.48 385.83Z" fill="#fff" stroke="#7a7a7a" stroke-width="0.75"/>
<rect x="362.98" y="389.43" width="2.2" height="2.2" fill="#fff" stroke="#000" stroke-width="0.95"/>
<rect x="362.98" y="414.01" width="2.2" height="2.2" fill="#fff" stroke="#000" stroke-width="0.95"/>
<path d="M316.8 353.7H344.8" stroke="#000" stroke-width="1.9"/>
<path d="M330.8 344.2V357.3M327.6 344.2H334M327.6 357.3H334" stroke="#000" stroke-width="1.15" fill="none"/>
<path d="M350.1 349.8H378.1" stroke="#000" stroke-width="1.9"/>
<path d="M364.1 342.6V364.7M359.3 342.6H368.9M359.3 364.7H368.9" stroke="#000" stroke-width="1.7" fill="none"/>
<text x="330.8" y="437.6" font-size="9.1" text-anchor="middle" font-weight="normal" >CONT</text>
<text x="363.5" y="437.6" font-size="9.1" text-anchor="middle" font-weight="normal" >GDM</text>
<text transform="translate(287 377) rotate(-90)" font-size="10.4" text-anchor="middle">Th1:Tregs (log<tspan font-size="8" dy="2.2">10</tspan><tspan dy="-2.2">)</tspan></text>
<text x="277" y="320" font-size="20" text-anchor="start" font-weight="bold" style="stroke-width:.4px">g</text>
</g>
<g id="panel-h">
<path d="M36.3 485.1V596.4H119.5" fill="none" stroke="#000" stroke-width="1"/>
<path d="M34.1 485.6H36.3" stroke="#000" stroke-width="1"/>
<text x="32.3" y="488.5" font-size="9.0" text-anchor="end" font-weight="normal" >15</text>
<path d="M34.1 522.5H36.3" stroke="#000" stroke-width="1"/>
<text x="32.3" y="525.4" font-size="9.0" text-anchor="end" font-weight="normal" >10</text>
<path d="M34.1 559.5H36.3" stroke="#000" stroke-width="1"/>
<text x="32.3" y="562.4" font-size="9.0" text-anchor="end" font-weight="normal" >5</text>
<path d="M34.1 596.4H36.3" stroke="#000" stroke-width="1"/>
<text x="32.3" y="599.3" font-size="9.0" text-anchor="end" font-weight="normal" >0</text>
<path d="M57 596.4V598.4" stroke="#000" stroke-width="1"/>
<path d="M98.6 596.4V598.4" stroke="#000" stroke-width="1"/>
<path d="M57 504.8L98.6 523.27" stroke="#000" stroke-width="1.45" fill="none"/>
<path d="M57 537.3L98.6 522.53" stroke="#000" stroke-width="1.45" fill="none"/>
<path d="M57 564.27L98.6 507.76" stroke="#000" stroke-width="1.45" fill="none"/>
<path d="M57 554.29L98.6 536.57" stroke="#000" stroke-width="1.45" fill="none"/>
<path d="M57 555.03L98.6 538.78" stroke="#000" stroke-width="1.45" fill="none"/>
<path d="M57 560.2L98.6 544.69" stroke="#000" stroke-width="1.45" fill="none"/>
<path d="M57 560.94L98.6 547.65" stroke="#000" stroke-width="1.45" fill="none"/>
<path d="M57 562.42L98.6 550.6" stroke="#000" stroke-width="1.45" fill="none"/>
<path d="M57 563.9L98.6 555.03" stroke="#000" stroke-width="1.45" fill="none"/>
<path d="M57 565.37L98.6 559.47" stroke="#000" stroke-width="1.45" fill="none"/>
<path d="M57 566.85L98.6 564.64" stroke="#000" stroke-width="1.45" fill="none"/>
<path d="M57 569.07L98.6 569.81" stroke="#000" stroke-width="1.45" fill="none"/>
<path d="M57 559.47L98.6 572.02" stroke="#000" stroke-width="1.45" fill="none"/>
<path d="M57 562.42L98.6 578.67" stroke="#000" stroke-width="1.45" fill="none"/>
<path d="M57 564.64L98.6 580.89" stroke="#000" stroke-width="1.45" fill="none"/>
<path d="M57 566.85L98.6 583.1" stroke="#000" stroke-width="1.45" fill="none"/>
<path d="M57 570.55L98.6 555.77" stroke="#000" stroke-width="1.45" fill="none"/>
<path d="M57 571.28L98.6 574.24" stroke="#000" stroke-width="1.45" fill="none"/>
<path d="M57 575.72L98.6 560.94" stroke="#000" stroke-width="1.45" fill="none"/>
<path d="M57 576.46L98.6 577.93" stroke="#000" stroke-width="1.45" fill="none"/>
<path d="M57 569.81L98.6 552.08" stroke="#000" stroke-width="1.45" fill="none"/>
<path d="M57 557.99L98.6 568.33" stroke="#000" stroke-width="1.45" fill="none"/>
<path d="M57 563.16L98.6 562.42" stroke="#000" stroke-width="1.45" fill="none"/>
<circle cx="57" cy="504.8" r="1.45" fill="#000"/>
<circle cx="98.6" cy="523.27" r="1.45" fill="#000"/>
<circle cx="57" cy="537.3" r="1.45" fill="#000"/>
<circle cx="98.6" cy="522.53" r="1.45" fill="#000"/>
<circle cx="57" cy="564.27" r="1.45" fill="#000"/>
<circle cx="98.6" cy="507.76" r="1.45" fill="#000"/>
<circle cx="57" cy="554.29" r="1.45" fill="#000"/>
<circle cx="98.6" cy="536.57" r="1.45" fill="#000"/>
<circle cx="57" cy="555.03" r="1.45" fill="#000"/>
<circle cx="98.6" cy="538.78" r="1.45" fill="#000"/>
<circle cx="57" cy="560.2" r="1.45" fill="#000"/>
<circle cx="98.6" cy="544.69" r="1.45" fill="#000"/>
<circle cx="57" cy="560.94" r="1.45" fill="#000"/>
<circle cx="98.6" cy="547.65" r="1.45" fill="#000"/>
<circle cx="57" cy="562.42" r="1.45" fill="#000"/>
<circle cx="98.6" cy="550.6" r="1.45" fill="#000"/>
<circle cx="57" cy="563.9" r="1.45" fill="#000"/>
<circle cx="98.6" cy="555.03" r="1.45" fill="#000"/>
<circle cx="57" cy="565.37" r="1.45" fill="#000"/>
<circle cx="98.6" cy="559.47" r="1.45" fill="#000"/>
<circle cx="57" cy="566.85" r="1.45" fill="#000"/>
<circle cx="98.6" cy="564.64" r="1.45" fill="#000"/>
<circle cx="57" cy="569.07" r="1.45" fill="#000"/>
<circle cx="98.6" cy="569.81" r="1.45" fill="#000"/>
<circle cx="57" cy="559.47" r="1.45" fill="#000"/>
<circle cx="98.6" cy="572.02" r="1.45" fill="#000"/>
<circle cx="57" cy="562.42" r="1.45" fill="#000"/>
<circle cx="98.6" cy="578.67" r="1.45" fill="#000"/>
<circle cx="57" cy="564.64" r="1.45" fill="#000"/>
<circle cx="98.6" cy="580.89" r="1.45" fill="#000"/>
<circle cx="57" cy="566.85" r="1.45" fill="#000"/>
<circle cx="98.6" cy="583.1" r="1.45" fill="#000"/>
<circle cx="57" cy="570.55" r="1.45" fill="#000"/>
<circle cx="98.6" cy="555.77" r="1.45" fill="#000"/>
<circle cx="57" cy="571.28" r="1.45" fill="#000"/>
<circle cx="98.6" cy="574.24" r="1.45" fill="#000"/>
<circle cx="57" cy="575.72" r="1.45" fill="#000"/>
<circle cx="98.6" cy="560.94" r="1.45" fill="#000"/>
<circle cx="57" cy="576.46" r="1.45" fill="#000"/>
<circle cx="98.6" cy="577.93" r="1.45" fill="#000"/>
<circle cx="57" cy="569.81" r="1.45" fill="#000"/>
<circle cx="98.6" cy="552.08" r="1.45" fill="#000"/>
<circle cx="57" cy="557.99" r="1.45" fill="#000"/>
<circle cx="98.6" cy="568.33" r="1.45" fill="#000"/>
<circle cx="57" cy="563.16" r="1.45" fill="#000"/>
<circle cx="98.6" cy="562.42" r="1.45" fill="#000"/>
<text x="57.4" y="607.7" font-size="9.2" text-anchor="middle" font-weight="normal" >Pregnancy</text>
<text x="98.7" y="607.7" font-size="9.2" text-anchor="middle" font-weight="normal" >PPM</text>
<text transform="translate(8.8 541) rotate(-90)" font-size="10.4" text-anchor="middle">Tregs (% of CD4)</text>
<text x="-0.6" y="478.5" font-size="20" text-anchor="start" font-weight="bold" style="stroke-width:.4px">h</text>
</g>
<g id="panel-i">
<path d="M175.4 485.1V596.4H258.2" fill="none" stroke="#000" stroke-width="1"/>
<path d="M173.2 485.6H175.4" stroke="#000" stroke-width="1"/>
<text x="171.4" y="488.5" font-size="9.0" text-anchor="end" font-weight="normal" >10</text>
<path d="M173.2 541H175.4" stroke="#000" stroke-width="1"/>
<text x="171.4" y="543.9" font-size="9.0" text-anchor="end" font-weight="normal" >5</text>
<path d="M173.2 596.4H175.4" stroke="#000" stroke-width="1"/>
<text x="171.4" y="599.3" font-size="9.0" text-anchor="end" font-weight="normal" >0</text>
<path d="M195.8 596.4V598.4" stroke="#000" stroke-width="1"/>
<path d="M237.4 596.4V598.4" stroke="#000" stroke-width="1"/>
<path d="M195.8 541L237.4 563.16" stroke="#000" stroke-width="1.45" fill="none"/>
<path d="M195.8 563.71L237.4 537.68" stroke="#000" stroke-width="1.45" fill="none"/>
<path d="M195.8 556.51L237.4 546.54" stroke="#000" stroke-width="1.45" fill="none"/>
<path d="M195.8 558.17L237.4 548.76" stroke="#000" stroke-width="1.45" fill="none"/>
<path d="M195.8 577.01L237.4 556.51" stroke="#000" stroke-width="1.45" fill="none"/>
<path d="M195.8 554.3L237.4 574.24" stroke="#000" stroke-width="1.45" fill="none"/>
<path d="M195.8 555.4L237.4 579.78" stroke="#000" stroke-width="1.45" fill="none"/>
<path d="M195.8 555.96L237.4 566.48" stroke="#000" stroke-width="1.45" fill="none"/>
<path d="M195.8 559.84L237.4 583.1" stroke="#000" stroke-width="1.45" fill="none"/>
<path d="M195.8 563.16L237.4 564.27" stroke="#000" stroke-width="1.45" fill="none"/>
<path d="M195.8 567.59L237.4 586.43" stroke="#000" stroke-width="1.45" fill="none"/>
<path d="M195.8 570.92L237.4 572.02" stroke="#000" stroke-width="1.45" fill="none"/>
<path d="M195.8 573.13L237.4 580.89" stroke="#000" stroke-width="1.45" fill="none"/>
<path d="M195.8 574.24L237.4 588.64" stroke="#000" stroke-width="1.45" fill="none"/>
<path d="M195.8 575.35L237.4 568.7" stroke="#000" stroke-width="1.45" fill="none"/>
<path d="M195.8 578.67L237.4 576.46" stroke="#000" stroke-width="1.45" fill="none"/>
<path d="M195.8 579.78L237.4 589.75" stroke="#000" stroke-width="1.45" fill="none"/>
<path d="M195.8 582L237.4 578.67" stroke="#000" stroke-width="1.45" fill="none"/>
<path d="M195.8 583.1L237.4 584.21" stroke="#000" stroke-width="1.45" fill="none"/>
<path d="M195.8 586.43L237.4 585.32" stroke="#000" stroke-width="1.45" fill="none"/>
<path d="M195.8 587.54L237.4 587.54" stroke="#000" stroke-width="1.45" fill="none"/>
<path d="M195.8 588.64L237.4 590.86" stroke="#000" stroke-width="1.45" fill="none"/>
<path d="M195.8 593.08L237.4 591.41" stroke="#000" stroke-width="1.45" fill="none"/>
<path d="M195.8 572.02L237.4 577.56" stroke="#000" stroke-width="1.45" fill="none"/>
<circle cx="195.8" cy="541" r="1.45" fill="#000"/>
<circle cx="237.4" cy="563.16" r="1.45" fill="#000"/>
<circle cx="195.8" cy="563.71" r="1.45" fill="#000"/>
<circle cx="237.4" cy="537.68" r="1.45" fill="#000"/>
<circle cx="195.8" cy="556.51" r="1.45" fill="#000"/>
<circle cx="237.4" cy="546.54" r="1.45" fill="#000"/>
<circle cx="195.8" cy="558.17" r="1.45" fill="#000"/>
<circle cx="237.4" cy="548.76" r="1.45" fill="#000"/>
<circle cx="195.8" cy="577.01" r="1.45" fill="#000"/>
<circle cx="237.4" cy="556.51" r="1.45" fill="#000"/>
<circle cx="195.8" cy="554.3" r="1.45" fill="#000"/>
<circle cx="237.4" cy="574.24" r="1.45" fill="#000"/>
<circle cx="195.8" cy="555.4" r="1.45" fill="#000"/>
<circle cx="237.4" cy="579.78" r="1.45" fill="#000"/>
<circle cx="195.8" cy="555.96" r="1.45" fill="#000"/>
<circle cx="237.4" cy="566.48" r="1.45" fill="#000"/>
<circle cx="195.8" cy="559.84" r="1.45" fill="#000"/>
<circle cx="237.4" cy="583.1" r="1.45" fill="#000"/>
<circle cx="195.8" cy="563.16" r="1.45" fill="#000"/>
<circle cx="237.4" cy="564.27" r="1.45" fill="#000"/>
<circle cx="195.8" cy="567.59" r="1.45" fill="#000"/>
<circle cx="237.4" cy="586.43" r="1.45" fill="#000"/>
<circle cx="195.8" cy="570.92" r="1.45" fill="#000"/>
<circle cx="237.4" cy="572.02" r="1.45" fill="#000"/>
<circle cx="195.8" cy="573.13" r="1.45" fill="#000"/>
<circle cx="237.4" cy="580.89" r="1.45" fill="#000"/>
<circle cx="195.8" cy="574.24" r="1.45" fill="#000"/>
<circle cx="237.4" cy="588.64" r="1.45" fill="#000"/>
<circle cx="195.8" cy="575.35" r="1.45" fill="#000"/>
<circle cx="237.4" cy="568.7" r="1.45" fill="#000"/>
<circle cx="195.8" cy="578.67" r="1.45" fill="#000"/>
<circle cx="237.4" cy="576.46" r="1.45" fill="#000"/>
<circle cx="195.8" cy="579.78" r="1.45" fill="#000"/>
<circle cx="237.4" cy="589.75" r="1.45" fill="#000"/>
<circle cx="195.8" cy="582" r="1.45" fill="#000"/>
<circle cx="237.4" cy="578.67" r="1.45" fill="#000"/>
<circle cx="195.8" cy="583.1" r="1.45" fill="#000"/>
<circle cx="237.4" cy="584.21" r="1.45" fill="#000"/>
<circle cx="195.8" cy="586.43" r="1.45" fill="#000"/>
<circle cx="237.4" cy="585.32" r="1.45" fill="#000"/>
<circle cx="195.8" cy="587.54" r="1.45" fill="#000"/>
<circle cx="237.4" cy="587.54" r="1.45" fill="#000"/>
<circle cx="195.8" cy="588.64" r="1.45" fill="#000"/>
<circle cx="237.4" cy="590.86" r="1.45" fill="#000"/>
<circle cx="195.8" cy="593.08" r="1.45" fill="#000"/>
<circle cx="237.4" cy="591.41" r="1.45" fill="#000"/>
<circle cx="195.8" cy="572.02" r="1.45" fill="#000"/>
<circle cx="237.4" cy="577.56" r="1.45" fill="#000"/>
<text x="196" y="607.7" font-size="9.2" text-anchor="middle" font-weight="normal" >Pregnancy</text>
<text x="237" y="607.7" font-size="9.2" text-anchor="middle" font-weight="normal" >PPM</text>
<text transform="translate(146.5 541) rotate(-90)" font-size="10.4" text-anchor="middle">Th17 (% of CD4)</text>
<text x="137.8" y="478.9" font-size="20" text-anchor="start" font-weight="bold" style="stroke-width:.4px">i</text>
</g>
<g id="panel-j">
<path d="M314.4 485.1V596.4H397" fill="none" stroke="#000" stroke-width="1"/>
<path d="M312.2 485.6H314.4" stroke="#000" stroke-width="1"/>
<text x="310.4" y="488.5" font-size="9.0" text-anchor="end" font-weight="normal" >10</text>
<path d="M312.2 538.2H314.4" stroke="#000" stroke-width="1"/>
<text x="310.4" y="541.1" font-size="9.0" text-anchor="end" font-weight="normal" >1</text>
<path d="M312.2 590.9H314.4" stroke="#000" stroke-width="1"/>
<text x="310.4" y="593.8" font-size="9.0" text-anchor="end" font-weight="normal" >0.1</text>
<path d="M312.5 595.95H314.4" stroke="#000" stroke-width="0.95"/>
<path d="M312.5 593.26H314.4" stroke="#000" stroke-width="0.95"/>
<path d="M312.5 575H314.4" stroke="#000" stroke-width="0.95"/>
<path d="M312.5 565.73H314.4" stroke="#000" stroke-width="0.95"/>
<path d="M312.5 559.15H314.4" stroke="#000" stroke-width="0.95"/>
<path d="M312.5 554.05H314.4" stroke="#000" stroke-width="0.95"/>
<path d="M312.5 549.88H314.4" stroke="#000" stroke-width="0.95"/>
<path d="M312.5 546.36H314.4" stroke="#000" stroke-width="0.95"/>
<path d="M312.5 543.3H314.4" stroke="#000" stroke-width="0.95"/>
<path d="M312.5 540.61H314.4" stroke="#000" stroke-width="0.95"/>
<path d="M312.5 522.35H314.4" stroke="#000" stroke-width="0.95"/>
<path d="M312.5 513.08H314.4" stroke="#000" stroke-width="0.95"/>
<path d="M312.5 506.5H314.4" stroke="#000" stroke-width="0.95"/>
<path d="M312.5 501.4H314.4" stroke="#000" stroke-width="0.95"/>
<path d="M312.5 497.23H314.4" stroke="#000" stroke-width="0.95"/>
<path d="M312.5 493.71H314.4" stroke="#000" stroke-width="0.95"/>
<path d="M312.5 490.65H314.4" stroke="#000" stroke-width="0.95"/>
<path d="M312.5 487.96H314.4" stroke="#000" stroke-width="0.95"/>
<path d="M334.5 596.4V598.4" stroke="#000" stroke-width="1"/>
<path d="M376.6 596.4V598.4" stroke="#000" stroke-width="1"/>
<path d="M334.5 535L376.6 539.37" stroke="#000" stroke-width="1.45" fill="none"/>
<path d="M334.5 539.37L376.6 546.36" stroke="#000" stroke-width="1.45" fill="none"/>
<path d="M334.5 540.61L376.6 538.2" stroke="#000" stroke-width="1.45" fill="none"/>
<path d="M334.5 543.3L376.6 556.46" stroke="#000" stroke-width="1.45" fill="none"/>
<path d="M334.5 544.78L376.6 565.73" stroke="#000" stroke-width="1.45" fill="none"/>
<path d="M334.5 546.36L376.6 548.05" stroke="#000" stroke-width="1.45" fill="none"/>
<path d="M334.5 549.13L376.6 584.85" stroke="#000" stroke-width="1.45" fill="none"/>
<path d="M334.5 551.87L376.6 546.36" stroke="#000" stroke-width="1.45" fill="none"/>
<path d="M334.5 554.05L376.6 558.04" stroke="#000" stroke-width="1.45" fill="none"/>
<path d="M334.5 555.46L376.6 569.9" stroke="#000" stroke-width="1.45" fill="none"/>
<path d="M334.5 556.97L376.6 556.46" stroke="#000" stroke-width="1.45" fill="none"/>
<path d="M334.5 558.04L376.6 586.68" stroke="#000" stroke-width="1.45" fill="none"/>
<path d="M334.5 559.15L376.6 562.2" stroke="#000" stroke-width="1.45" fill="none"/>
<path d="M334.5 560.32L376.6 564.25" stroke="#000" stroke-width="1.45" fill="none"/>
<path d="M334.5 561.56L376.6 583.16" stroke="#000" stroke-width="1.45" fill="none"/>
<path d="M334.5 563.55L376.6 559.15" stroke="#000" stroke-width="1.45" fill="none"/>
<path d="M334.5 565.73L376.6 567.31" stroke="#000" stroke-width="1.45" fill="none"/>
<path d="M334.5 567.31L376.6 581.58" stroke="#000" stroke-width="1.45" fill="none"/>
<path d="M334.5 569L376.6 565.73" stroke="#000" stroke-width="1.45" fill="none"/>
<path d="M334.5 570.83L376.6 570.83" stroke="#000" stroke-width="1.45" fill="none"/>
<path d="M334.5 572.82L376.6 577.41" stroke="#000" stroke-width="1.45" fill="none"/>
<path d="M334.5 575L376.6 575" stroke="#000" stroke-width="1.45" fill="none"/>
<path d="M334.5 576.17L376.6 584.85" stroke="#000" stroke-width="1.45" fill="none"/>
<path d="M334.5 585.75L376.6 578.72" stroke="#000" stroke-width="1.45" fill="none"/>
<path d="M334.5 548.05L376.6 540.61" stroke="#000" stroke-width="1.45" fill="none"/>
<path d="M334.5 562.2L376.6 549.88" stroke="#000" stroke-width="1.45" fill="none"/>
<circle cx="334.5" cy="535" r="1.45" fill="#000"/>
<circle cx="376.6" cy="539.37" r="1.45" fill="#000"/>
<circle cx="334.5" cy="539.37" r="1.45" fill="#000"/>
<circle cx="376.6" cy="546.36" r="1.45" fill="#000"/>
<circle cx="334.5" cy="540.61" r="1.45" fill="#000"/>
<circle cx="376.6" cy="538.2" r="1.45" fill="#000"/>
<circle cx="334.5" cy="543.3" r="1.45" fill="#000"/>
<circle cx="376.6" cy="556.46" r="1.45" fill="#000"/>
<circle cx="334.5" cy="544.78" r="1.45" fill="#000"/>
<circle cx="376.6" cy="565.73" r="1.45" fill="#000"/>
<circle cx="334.5" cy="546.36" r="1.45" fill="#000"/>
<circle cx="376.6" cy="548.05" r="1.45" fill="#000"/>
<circle cx="334.5" cy="549.13" r="1.45" fill="#000"/>
<circle cx="376.6" cy="584.85" r="1.45" fill="#000"/>
<circle cx="334.5" cy="551.87" r="1.45" fill="#000"/>
<circle cx="376.6" cy="546.36" r="1.45" fill="#000"/>
<circle cx="334.5" cy="554.05" r="1.45" fill="#000"/>
<circle cx="376.6" cy="558.04" r="1.45" fill="#000"/>
<circle cx="334.5" cy="555.46" r="1.45" fill="#000"/>
<circle cx="376.6" cy="569.9" r="1.45" fill="#000"/>
<circle cx="334.5" cy="556.97" r="1.45" fill="#000"/>
<circle cx="376.6" cy="556.46" r="1.45" fill="#000"/>
<circle cx="334.5" cy="558.04" r="1.45" fill="#000"/>
<circle cx="376.6" cy="586.68" r="1.45" fill="#000"/>
<circle cx="334.5" cy="559.15" r="1.45" fill="#000"/>
<circle cx="376.6" cy="562.2" r="1.45" fill="#000"/>
<circle cx="334.5" cy="560.32" r="1.45" fill="#000"/>
<circle cx="376.6" cy="564.25" r="1.45" fill="#000"/>
<circle cx="334.5" cy="561.56" r="1.45" fill="#000"/>
<circle cx="376.6" cy="583.16" r="1.45" fill="#000"/>
<circle cx="334.5" cy="563.55" r="1.45" fill="#000"/>
<circle cx="376.6" cy="559.15" r="1.45" fill="#000"/>
<circle cx="334.5" cy="565.73" r="1.45" fill="#000"/>
<circle cx="376.6" cy="567.31" r="1.45" fill="#000"/>
<circle cx="334.5" cy="567.31" r="1.45" fill="#000"/>
<circle cx="376.6" cy="581.58" r="1.45" fill="#000"/>
<circle cx="334.5" cy="569" r="1.45" fill="#000"/>
<circle cx="376.6" cy="565.73" r="1.45" fill="#000"/>
<circle cx="334.5" cy="570.83" r="1.45" fill="#000"/>
<circle cx="376.6" cy="570.83" r="1.45" fill="#000"/>
<circle cx="334.5" cy="572.82" r="1.45" fill="#000"/>
<circle cx="376.6" cy="577.41" r="1.45" fill="#000"/>
<circle cx="334.5" cy="575" r="1.45" fill="#000"/>
<circle cx="376.6" cy="575" r="1.45" fill="#000"/>
<circle cx="334.5" cy="576.17" r="1.45" fill="#000"/>
<circle cx="376.6" cy="584.85" r="1.45" fill="#000"/>
<circle cx="334.5" cy="585.75" r="1.45" fill="#000"/>
<circle cx="376.6" cy="578.72" r="1.45" fill="#000"/>
<circle cx="334.5" cy="548.05" r="1.45" fill="#000"/>
<circle cx="376.6" cy="540.61" r="1.45" fill="#000"/>
<circle cx="334.5" cy="562.2" r="1.45" fill="#000"/>
<circle cx="376.6" cy="549.88" r="1.45" fill="#000"/>
<text x="334.7" y="607.7" font-size="9.2" text-anchor="middle" font-weight="normal" >Pregnancy</text>
<text x="375.7" y="607.7" font-size="9.2" text-anchor="middle" font-weight="normal" >PPM</text>
<text transform="translate(287 541) rotate(-90)" font-size="10.4" text-anchor="middle">Th17:Tregs (log<tspan font-size="8" dy="2.2">10</tspan><tspan dy="-2.2">)</tspan></text>
<text x="277.8" y="478.5" font-size="20" text-anchor="start" font-weight="bold" style="stroke-width:.4px">j</text>
</g>
<g id="panel-k">
<path d="M36.3 652.9V764.3H119.5" fill="none" stroke="#000" stroke-width="1"/>
<path d="M34.1 653.4H36.3" stroke="#000" stroke-width="1"/>
<text x="32.3" y="656.3" font-size="9.0" text-anchor="end" font-weight="normal" >15</text>
<path d="M34.1 690.5H36.3" stroke="#000" stroke-width="1"/>
<text x="32.3" y="693.4" font-size="9.0" text-anchor="end" font-weight="normal" >10</text>
<path d="M34.1 727.7H36.3" stroke="#000" stroke-width="1"/>
<text x="32.3" y="730.6" font-size="9.0" text-anchor="end" font-weight="normal" >5</text>
<path d="M34.1 764.3H36.3" stroke="#000" stroke-width="1"/>
<text x="32.3" y="767.2" font-size="9.0" text-anchor="end" font-weight="normal" >0</text>
<path d="M57 764.3V766.3" stroke="#000" stroke-width="1"/>
<path d="M98.6 764.3V766.3" stroke="#000" stroke-width="1"/>
<path d="M57 680.87L98.6 713.55" stroke="#000" stroke-width="1.3" fill="none"/>
<path d="M57 688.3L98.6 709.84" stroke="#000" stroke-width="1.3" fill="none"/>
<path d="M57 700.93L98.6 717.27" stroke="#000" stroke-width="1.3" fill="none"/>
<path d="M57 704.64L98.6 730.64" stroke="#000" stroke-width="1.3" fill="none"/>
<path d="M57 706.87L98.6 746.98" stroke="#000" stroke-width="1.3" fill="none"/>
<path d="M57 713.55L98.6 718.01" stroke="#000" stroke-width="1.3" fill="none"/>
<path d="M57 719.5L98.6 697.96" stroke="#000" stroke-width="1.3" fill="none"/>
<path d="M57 720.98L98.6 729.15" stroke="#000" stroke-width="1.3" fill="none"/>
<path d="M57 723.21L98.6 743.26" stroke="#000" stroke-width="1.3" fill="none"/>
<path d="M57 723.95L98.6 730.64" stroke="#000" stroke-width="1.3" fill="none"/>
<path d="M57 725.44L98.6 727.66" stroke="#000" stroke-width="1.3" fill="none"/>
<path d="M57 727.66L98.6 731.38" stroke="#000" stroke-width="1.3" fill="none"/>
<path d="M57 730.64L98.6 725.44" stroke="#000" stroke-width="1.3" fill="none"/>
<path d="M57 732.86L98.6 733.61" stroke="#000" stroke-width="1.3" fill="none"/>
<path d="M57 735.09L98.6 712.81" stroke="#000" stroke-width="1.3" fill="none"/>
<path d="M57 736.58L98.6 735.09" stroke="#000" stroke-width="1.3" fill="none"/>
<path d="M57 738.81L98.6 738.06" stroke="#000" stroke-width="1.3" fill="none"/>
<path d="M57 741.03L98.6 727.66" stroke="#000" stroke-width="1.3" fill="none"/>
<path d="M57 743.26L98.6 748.46" stroke="#000" stroke-width="1.3" fill="none"/>
<path d="M57 744.75L98.6 729.15" stroke="#000" stroke-width="1.3" fill="none"/>
<path d="M57 746.23L98.6 715.04" stroke="#000" stroke-width="1.3" fill="none"/>
<path d="M57 747.72L98.6 720.24" stroke="#000" stroke-width="1.3" fill="none"/>
<path d="M57 755.89L98.6 735.09" stroke="#000" stroke-width="1.3" fill="none"/>
<path d="M57 741.03L98.6 757.37" stroke="#000" stroke-width="1.3" fill="none"/>
<path d="M57 734.35L98.6 740.29" stroke="#000" stroke-width="1.3" fill="none"/>
<path d="M57 745.49L98.6 746.98" stroke="#000" stroke-width="1.3" fill="none"/>
<path d="M57 720.24L98.6 742.52" stroke="#000" stroke-width="1.3" fill="none"/>
<path d="M55.3 680.87L57 679.17L58.7 680.87L57 682.57Z" fill="#fff" stroke="#7a7a7a" stroke-width="0.75"/>
<rect x="97.35" y="712.3" width="2.5" height="2.5" fill="#fff" stroke="#000" stroke-width="0.95"/>
<path d="M55.3 688.3L57 686.6L58.7 688.3L57 690Z" fill="#fff" stroke="#7a7a7a" stroke-width="0.75"/>
<path d="M96.9 709.84L98.6 708.14L100.3 709.84L98.6 711.54Z" fill="#fff" stroke="#7a7a7a" stroke-width="0.75"/>
<path d="M55.3 700.93L57 699.23L58.7 700.93L57 702.63Z" fill="#fff" stroke="#7a7a7a" stroke-width="0.75"/>
<rect x="97.35" y="716.02" width="2.5" height="2.5" fill="#fff" stroke="#000" stroke-width="0.95"/>
<rect x="55.75" y="703.39" width="2.5" height="2.5" fill="#fff" stroke="#000" stroke-width="0.95"/>
<rect x="97.35" y="729.39" width="2.5" height="2.5" fill="#fff" stroke="#000" stroke-width="0.95"/>
<rect x="55.75" y="705.62" width="2.5" height="2.5" fill="#fff" stroke="#000" stroke-width="0.95"/>
<rect x="97.35" y="745.73" width="2.5" height="2.5" fill="#fff" stroke="#000" stroke-width="0.95"/>
<rect x="55.75" y="712.3" width="2.5" height="2.5" fill="#fff" stroke="#000" stroke-width="0.95"/>
<rect x="97.35" y="716.76" width="2.5" height="2.5" fill="#fff" stroke="#000" stroke-width="0.95"/>
<rect x="55.75" y="718.25" width="2.5" height="2.5" fill="#fff" stroke="#000" stroke-width="0.95"/>
<rect x="97.35" y="696.71" width="2.5" height="2.5" fill="#fff" stroke="#000" stroke-width="0.95"/>
<rect x="55.75" y="719.73" width="2.5" height="2.5" fill="#fff" stroke="#000" stroke-width="0.95"/>
<rect x="97.35" y="727.9" width="2.5" height="2.5" fill="#fff" stroke="#000" stroke-width="0.95"/>
<rect x="55.75" y="721.96" width="2.5" height="2.5" fill="#fff" stroke="#000" stroke-width="0.95"/>
<path d="M96.9 743.26L98.6 741.56L100.3 743.26L98.6 744.96Z" fill="#fff" stroke="#7a7a7a" stroke-width="0.75"/>
<rect x="55.75" y="722.7" width="2.5" height="2.5" fill="#fff" stroke="#000" stroke-width="0.95"/>
<rect x="97.35" y="729.39" width="2.5" height="2.5" fill="#fff" stroke="#000" stroke-width="0.95"/>
<rect x="55.75" y="724.19" width="2.5" height="2.5" fill="#fff" stroke="#000" stroke-width="0.95"/>
<rect x="97.35" y="726.41" width="2.5" height="2.5" fill="#fff" stroke="#000" stroke-width="0.95"/>
<rect x="55.75" y="726.41" width="2.5" height="2.5" fill="#fff" stroke="#000" stroke-width="0.95"/>
<rect x="97.35" y="730.13" width="2.5" height="2.5" fill="#fff" stroke="#000" stroke-width="0.95"/>
<path d="M55.3 730.64L57 728.94L58.7 730.64L57 732.34Z" fill="#fff" stroke="#7a7a7a" stroke-width="0.75"/>
<path d="M96.9 725.44L98.6 723.74L100.3 725.44L98.6 727.14Z" fill="#fff" stroke="#7a7a7a" stroke-width="0.75"/>
<rect x="55.75" y="731.61" width="2.5" height="2.5" fill="#fff" stroke="#000" stroke-width="0.95"/>
<rect x="97.35" y="732.36" width="2.5" height="2.5" fill="#fff" stroke="#000" stroke-width="0.95"/>
<rect x="55.75" y="733.84" width="2.5" height="2.5" fill="#fff" stroke="#000" stroke-width="0.95"/>
<rect x="97.35" y="711.56" width="2.5" height="2.5" fill="#fff" stroke="#000" stroke-width="0.95"/>
<rect x="55.75" y="735.33" width="2.5" height="2.5" fill="#fff" stroke="#000" stroke-width="0.95"/>
<rect x="97.35" y="733.84" width="2.5" height="2.5" fill="#fff" stroke="#000" stroke-width="0.95"/>
<rect x="55.75" y="737.56" width="2.5" height="2.5" fill="#fff" stroke="#000" stroke-width="0.95"/>
<rect x="97.35" y="736.81" width="2.5" height="2.5" fill="#fff" stroke="#000" stroke-width="0.95"/>
<rect x="55.75" y="739.78" width="2.5" height="2.5" fill="#fff" stroke="#000" stroke-width="0.95"/>
<rect x="97.35" y="726.41" width="2.5" height="2.5" fill="#fff" stroke="#000" stroke-width="0.95"/>
<rect x="55.75" y="742.01" width="2.5" height="2.5" fill="#fff" stroke="#000" stroke-width="0.95"/>
<rect x="97.35" y="747.21" width="2.5" height="2.5" fill="#fff" stroke="#000" stroke-width="0.95"/>
<rect x="55.75" y="743.5" width="2.5" height="2.5" fill="#fff" stroke="#000" stroke-width="0.95"/>
<rect x="97.35" y="727.9" width="2.5" height="2.5" fill="#fff" stroke="#000" stroke-width="0.95"/>
<rect x="55.75" y="744.98" width="2.5" height="2.5" fill="#fff" stroke="#000" stroke-width="0.95"/>
<rect x="97.35" y="713.79" width="2.5" height="2.5" fill="#fff" stroke="#000" stroke-width="0.95"/>
<rect x="55.75" y="746.47" width="2.5" height="2.5" fill="#fff" stroke="#000" stroke-width="0.95"/>
<rect x="97.35" y="718.99" width="2.5" height="2.5" fill="#fff" stroke="#000" stroke-width="0.95"/>
<rect x="55.75" y="754.64" width="2.5" height="2.5" fill="#fff" stroke="#000" stroke-width="0.95"/>
<rect x="97.35" y="733.84" width="2.5" height="2.5" fill="#fff" stroke="#000" stroke-width="0.95"/>
<rect x="55.75" y="739.78" width="2.5" height="2.5" fill="#fff" stroke="#000" stroke-width="0.95"/>
<rect x="97.35" y="756.12" width="2.5" height="2.5" fill="#fff" stroke="#000" stroke-width="0.95"/>
<rect x="55.75" y="733.1" width="2.5" height="2.5" fill="#fff" stroke="#000" stroke-width="0.95"/>
<rect x="97.35" y="739.04" width="2.5" height="2.5" fill="#fff" stroke="#000" stroke-width="0.95"/>
<rect x="55.75" y="744.24" width="2.5" height="2.5" fill="#fff" stroke="#000" stroke-width="0.95"/>
<rect x="97.35" y="745.73" width="2.5" height="2.5" fill="#fff" stroke="#000" stroke-width="0.95"/>
<rect x="55.75" y="718.99" width="2.5" height="2.5" fill="#fff" stroke="#000" stroke-width="0.95"/>
<rect x="97.35" y="741.27" width="2.5" height="2.5" fill="#fff" stroke="#000" stroke-width="0.95"/>
<text x="57.4" y="774.9" font-size="9.2" text-anchor="middle" font-weight="normal" >Pregnancy</text>
<text x="98.7" y="774.9" font-size="9.2" text-anchor="middle" font-weight="normal" >PPM</text>
<text transform="translate(8.8 708.85) rotate(-90)" font-size="10.4" text-anchor="middle">Tregs (% of CD4)</text>
<text x="-0.3" y="646" font-size="20" text-anchor="start" font-weight="bold" style="stroke-width:.4px">k</text>
</g>
<g id="panel-l">
<path d="M175.4 652.9V764.3H258.2" fill="none" stroke="#000" stroke-width="1"/>
<path d="M173.2 653.4H175.4" stroke="#000" stroke-width="1"/>
<text x="171.4" y="656.3" font-size="9.0" text-anchor="end" font-weight="normal" >10</text>
<path d="M173.2 709.1H175.4" stroke="#000" stroke-width="1"/>
<text x="171.4" y="712" font-size="9.0" text-anchor="end" font-weight="normal" >5</text>
<path d="M173.2 764.3H175.4" stroke="#000" stroke-width="1"/>
<text x="171.4" y="767.2" font-size="9.0" text-anchor="end" font-weight="normal" >0</text>
<path d="M196 764.3V766.3" stroke="#000" stroke-width="1"/>
<path d="M237.4 764.3V766.3" stroke="#000" stroke-width="1"/>
<path d="M196 660.08L237.4 701.86" stroke="#000" stroke-width="1.3" fill="none"/>
<path d="M196 685.71L237.4 735.84" stroke="#000" stroke-width="1.3" fill="none"/>
<path d="M196 695.73L237.4 742.52" stroke="#000" stroke-width="1.3" fill="none"/>
<path d="M196 704.64L237.4 704.64" stroke="#000" stroke-width="1.3" fill="none"/>
<path d="M196 703.53L237.4 731.38" stroke="#000" stroke-width="1.3" fill="none"/>
<path d="M196 710.21L237.4 744.75" stroke="#000" stroke-width="1.3" fill="none"/>
<path d="M196 711.33L237.4 751.43" stroke="#000" stroke-width="1.3" fill="none"/>
<path d="M196 712.44L237.4 753.66" stroke="#000" stroke-width="1.3" fill="none"/>
<path d="M196 726.92L237.4 728.04" stroke="#000" stroke-width="1.3" fill="none"/>
<path d="M196 729.15L237.4 736.95" stroke="#000" stroke-width="1.3" fill="none"/>
<path d="M196 731.38L237.4 721.35" stroke="#000" stroke-width="1.3" fill="none"/>
<path d="M196 732.49L237.4 748.09" stroke="#000" stroke-width="1.3" fill="none"/>
<path d="M196 733.61L237.4 752.55" stroke="#000" stroke-width="1.3" fill="none"/>
<path d="M196 736.95L237.4 713.56" stroke="#000" stroke-width="1.3" fill="none"/>
<path d="M196 738.06L237.4 725.81" stroke="#000" stroke-width="1.3" fill="none"/>
<path d="M196 740.29L237.4 754.77" stroke="#000" stroke-width="1.3" fill="none"/>
<path d="M196 745.86L237.4 749.2" stroke="#000" stroke-width="1.3" fill="none"/>
<path d="M196 746.98L237.4 750.32" stroke="#000" stroke-width="1.3" fill="none"/>
<path d="M196 748.09L237.4 757" stroke="#000" stroke-width="1.3" fill="none"/>
<path d="M196 754.77L237.4 755.89" stroke="#000" stroke-width="1.3" fill="none"/>
<path d="M196 757.56L237.4 758.12" stroke="#000" stroke-width="1.3" fill="none"/>
<path d="M196 759.23L237.4 759.79" stroke="#000" stroke-width="1.3" fill="none"/>
<path d="M196 730.27L237.4 740.29" stroke="#000" stroke-width="1.3" fill="none"/>
<path d="M196 739.18L237.4 730.27" stroke="#000" stroke-width="1.3" fill="none"/>
<path d="M196 742.52L237.4 745.86" stroke="#000" stroke-width="1.3" fill="none"/>
<rect x="194.75" y="658.83" width="2.5" height="2.5" fill="#fff" stroke="#000" stroke-width="0.95"/>
<rect x="236.15" y="700.61" width="2.5" height="2.5" fill="#fff" stroke="#000" stroke-width="0.95"/>
<rect x="194.75" y="684.46" width="2.5" height="2.5" fill="#fff" stroke="#000" stroke-width="0.95"/>
<rect x="236.15" y="734.59" width="2.5" height="2.5" fill="#fff" stroke="#000" stroke-width="0.95"/>
<rect x="194.75" y="694.48" width="2.5" height="2.5" fill="#fff" stroke="#000" stroke-width="0.95"/>
<rect x="236.15" y="741.27" width="2.5" height="2.5" fill="#fff" stroke="#000" stroke-width="0.95"/>
<rect x="194.75" y="703.39" width="2.5" height="2.5" fill="#fff" stroke="#000" stroke-width="0.95"/>
<rect x="236.15" y="703.39" width="2.5" height="2.5" fill="#fff" stroke="#000" stroke-width="0.95"/>
<rect x="194.75" y="702.28" width="2.5" height="2.5" fill="#fff" stroke="#000" stroke-width="0.95"/>
<rect x="236.15" y="730.13" width="2.5" height="2.5" fill="#fff" stroke="#000" stroke-width="0.95"/>
<rect x="194.75" y="708.96" width="2.5" height="2.5" fill="#fff" stroke="#000" stroke-width="0.95"/>
<rect x="236.15" y="743.5" width="2.5" height="2.5" fill="#fff" stroke="#000" stroke-width="0.95"/>
<rect x="194.75" y="710.08" width="2.5" height="2.5" fill="#fff" stroke="#000" stroke-width="0.95"/>
<rect x="236.15" y="750.18" width="2.5" height="2.5" fill="#fff" stroke="#000" stroke-width="0.95"/>
<rect x="194.75" y="711.19" width="2.5" height="2.5" fill="#fff" stroke="#000" stroke-width="0.95"/>
<rect x="236.15" y="752.41" width="2.5" height="2.5" fill="#fff" stroke="#000" stroke-width="0.95"/>
<rect x="194.75" y="725.67" width="2.5" height="2.5" fill="#fff" stroke="#000" stroke-width="0.95"/>
<rect x="236.15" y="726.79" width="2.5" height="2.5" fill="#fff" stroke="#000" stroke-width="0.95"/>
<rect x="194.75" y="727.9" width="2.5" height="2.5" fill="#fff" stroke="#000" stroke-width="0.95"/>
<rect x="236.15" y="735.7" width="2.5" height="2.5" fill="#fff" stroke="#000" stroke-width="0.95"/>
<rect x="194.75" y="730.13" width="2.5" height="2.5" fill="#fff" stroke="#000" stroke-width="0.95"/>
<rect x="236.15" y="720.1" width="2.5" height="2.5" fill="#fff" stroke="#000" stroke-width="0.95"/>
<rect x="194.75" y="731.24" width="2.5" height="2.5" fill="#fff" stroke="#000" stroke-width="0.95"/>
<rect x="236.15" y="746.84" width="2.5" height="2.5" fill="#fff" stroke="#000" stroke-width="0.95"/>
<rect x="194.75" y="732.36" width="2.5" height="2.5" fill="#fff" stroke="#000" stroke-width="0.95"/>
<rect x="236.15" y="751.3" width="2.5" height="2.5" fill="#fff" stroke="#000" stroke-width="0.95"/>
<path d="M194.3 736.95L196 735.25L197.7 736.95L196 738.65Z" fill="#fff" stroke="#7a7a7a" stroke-width="0.75"/>
<path d="M235.7 713.56L237.4 711.86L239.1 713.56L237.4 715.26Z" fill="#fff" stroke="#7a7a7a" stroke-width="0.75"/>
<rect x="194.75" y="736.81" width="2.5" height="2.5" fill="#fff" stroke="#000" stroke-width="0.95"/>
<rect x="236.15" y="724.56" width="2.5" height="2.5" fill="#fff" stroke="#000" stroke-width="0.95"/>
<rect x="194.75" y="739.04" width="2.5" height="2.5" fill="#fff" stroke="#000" stroke-width="0.95"/>
<rect x="236.15" y="753.52" width="2.5" height="2.5" fill="#fff" stroke="#000" stroke-width="0.95"/>
<rect x="194.75" y="744.61" width="2.5" height="2.5" fill="#fff" stroke="#000" stroke-width="0.95"/>
<rect x="236.15" y="747.95" width="2.5" height="2.5" fill="#fff" stroke="#000" stroke-width="0.95"/>
<rect x="194.75" y="745.73" width="2.5" height="2.5" fill="#fff" stroke="#000" stroke-width="0.95"/>
<rect x="236.15" y="749.07" width="2.5" height="2.5" fill="#fff" stroke="#000" stroke-width="0.95"/>
<rect x="194.75" y="746.84" width="2.5" height="2.5" fill="#fff" stroke="#000" stroke-width="0.95"/>
<rect x="236.15" y="755.75" width="2.5" height="2.5" fill="#fff" stroke="#000" stroke-width="0.95"/>
<rect x="194.75" y="753.52" width="2.5" height="2.5" fill="#fff" stroke="#000" stroke-width="0.95"/>
<rect x="236.15" y="754.64" width="2.5" height="2.5" fill="#fff" stroke="#000" stroke-width="0.95"/>
<rect x="194.75" y="756.31" width="2.5" height="2.5" fill="#fff" stroke="#000" stroke-width="0.95"/>
<rect x="236.15" y="756.87" width="2.5" height="2.5" fill="#fff" stroke="#000" stroke-width="0.95"/>
<rect x="194.75" y="757.98" width="2.5" height="2.5" fill="#fff" stroke="#000" stroke-width="0.95"/>
<rect x="236.15" y="758.54" width="2.5" height="2.5" fill="#fff" stroke="#000" stroke-width="0.95"/>
<rect x="194.75" y="729.02" width="2.5" height="2.5" fill="#fff" stroke="#000" stroke-width="0.95"/>
<rect x="236.15" y="739.04" width="2.5" height="2.5" fill="#fff" stroke="#000" stroke-width="0.95"/>
<rect x="194.75" y="737.93" width="2.5" height="2.5" fill="#fff" stroke="#000" stroke-width="0.95"/>
<rect x="236.15" y="729.02" width="2.5" height="2.5" fill="#fff" stroke="#000" stroke-width="0.95"/>
<path d="M194.3 742.52L196 740.82L197.7 742.52L196 744.22Z" fill="#fff" stroke="#7a7a7a" stroke-width="0.75"/>
<path d="M235.7 745.86L237.4 744.16L239.1 745.86L237.4 747.56Z" fill="#fff" stroke="#7a7a7a" stroke-width="0.75"/>
<text x="196.2" y="774.9" font-size="9.2" text-anchor="middle" font-weight="normal" >Pregnancy</text>
<text x="237" y="774.9" font-size="9.2" text-anchor="middle" font-weight="normal" >PPM</text>
<text transform="translate(146.5 708.85) rotate(-90)" font-size="10.4" text-anchor="middle">Th17 (% of CD4)</text>
<text x="138" y="646" font-size="20" text-anchor="start" font-weight="bold" style="stroke-width:.4px">l</text>
<text x="218" y="656.2" font-size="10" text-anchor="middle" font-weight="bold" >**</text>
</g>
<g id="panel-m">
<path d="M314.4 652.9V764.3H397" fill="none" stroke="#000" stroke-width="1"/>
<path d="M312.2 653.4H314.4" stroke="#000" stroke-width="1"/>
<text x="310.4" y="656.3" font-size="9.0" text-anchor="end" font-weight="normal" >10</text>
<path d="M312.2 706.3H314.4" stroke="#000" stroke-width="1"/>
<text x="310.4" y="709.2" font-size="9.0" text-anchor="end" font-weight="normal" >1</text>
<path d="M312.2 759.2H314.4" stroke="#000" stroke-width="1"/>
<text x="310.4" y="762.1" font-size="9.0" text-anchor="end" font-weight="normal" >0.1</text>
<path d="M312.5 764.33H314.4" stroke="#000" stroke-width="0.95"/>
<path d="M312.5 761.62H314.4" stroke="#000" stroke-width="0.95"/>
<path d="M312.5 743.28H314.4" stroke="#000" stroke-width="0.95"/>
<path d="M312.5 733.96H314.4" stroke="#000" stroke-width="0.95"/>
<path d="M312.5 727.35H314.4" stroke="#000" stroke-width="0.95"/>
<path d="M312.5 722.22H314.4" stroke="#000" stroke-width="0.95"/>
<path d="M312.5 718.04H314.4" stroke="#000" stroke-width="0.95"/>
<path d="M312.5 714.49H314.4" stroke="#000" stroke-width="0.95"/>
<path d="M312.5 711.43H314.4" stroke="#000" stroke-width="0.95"/>
<path d="M312.5 708.72H314.4" stroke="#000" stroke-width="0.95"/>
<path d="M312.5 690.38H314.4" stroke="#000" stroke-width="0.95"/>
<path d="M312.5 681.06H314.4" stroke="#000" stroke-width="0.95"/>
<path d="M312.5 674.45H314.4" stroke="#000" stroke-width="0.95"/>
<path d="M312.5 669.32H314.4" stroke="#000" stroke-width="0.95"/>
<path d="M312.5 665.14H314.4" stroke="#000" stroke-width="0.95"/>
<path d="M312.5 661.59H314.4" stroke="#000" stroke-width="0.95"/>
<path d="M312.5 658.53H314.4" stroke="#000" stroke-width="0.95"/>
<path d="M312.5 655.82H314.4" stroke="#000" stroke-width="0.95"/>
<path d="M334.5 764.3V766.3" stroke="#000" stroke-width="1"/>
<path d="M376.6 764.3V766.3" stroke="#000" stroke-width="1"/>
<path d="M334.5 686.67L376.6 699.41" stroke="#000" stroke-width="1.3" fill="none"/>
<path d="M334.5 688.71L376.6 692.17" stroke="#000" stroke-width="1.3" fill="none"/>
<path d="M334.5 703.09L376.6 683.48" stroke="#000" stroke-width="1.3" fill="none"/>
<path d="M334.5 695.5L376.6 712.91" stroke="#000" stroke-width="1.3" fill="none"/>
<path d="M334.5 701.17L376.6 718.04" stroke="#000" stroke-width="1.3" fill="none"/>
<path d="M334.5 702.11L376.6 716.2" stroke="#000" stroke-width="1.3" fill="none"/>
<path d="M334.5 709.24L376.6 707.48" stroke="#000" stroke-width="1.3" fill="none"/>
<path d="M334.5 711.43L376.6 720.03" stroke="#000" stroke-width="1.3" fill="none"/>
<path d="M334.5 718.81L376.6 711.43" stroke="#000" stroke-width="1.3" fill="none"/>
<path d="M334.5 722.22L376.6 726.23" stroke="#000" stroke-width="1.3" fill="none"/>
<path d="M334.5 724.65L376.6 728.53" stroke="#000" stroke-width="1.3" fill="none"/>
<path d="M334.5 727.35L376.6 731.77" stroke="#000" stroke-width="1.3" fill="none"/>
<path d="M334.5 729.77L376.6 738.15" stroke="#000" stroke-width="1.3" fill="none"/>
<path d="M334.5 731.77L376.6 743.28" stroke="#000" stroke-width="1.3" fill="none"/>
<path d="M334.5 733.96L376.6 745.7" stroke="#000" stroke-width="1.3" fill="none"/>
<path d="M334.5 734.74L376.6 747.01" stroke="#000" stroke-width="1.3" fill="none"/>
<path d="M334.5 754.63L376.6 761.62" stroke="#000" stroke-width="1.3" fill="none"/>
<path d="M334.5 718.04L376.6 730.42" stroke="#000" stroke-width="1.3" fill="none"/>
<path d="M334.5 712.91L376.6 727.35" stroke="#000" stroke-width="1.3" fill="none"/>
<path d="M334.5 721.32L376.6 714.49" stroke="#000" stroke-width="1.3" fill="none"/>
<path d="M334.5 730.42L376.6 739.09" stroke="#000" stroke-width="1.3" fill="none"/>
<rect x="333.25" y="685.42" width="2.5" height="2.5" fill="#fff" stroke="#000" stroke-width="0.95"/>
<rect x="375.35" y="698.16" width="2.5" height="2.5" fill="#fff" stroke="#000" stroke-width="0.95"/>
<rect x="333.25" y="687.46" width="2.5" height="2.5" fill="#fff" stroke="#000" stroke-width="0.95"/>
<rect x="375.35" y="690.92" width="2.5" height="2.5" fill="#fff" stroke="#000" stroke-width="0.95"/>
<rect x="333.25" y="701.84" width="2.5" height="2.5" fill="#fff" stroke="#000" stroke-width="0.95"/>
<rect x="375.35" y="682.23" width="2.5" height="2.5" fill="#fff" stroke="#000" stroke-width="0.95"/>
<path d="M332.8 695.5L334.5 693.8L336.2 695.5L334.5 697.2Z" fill="#fff" stroke="#7a7a7a" stroke-width="0.75"/>
<rect x="375.35" y="711.66" width="2.5" height="2.5" fill="#fff" stroke="#000" stroke-width="0.95"/>
<rect x="333.25" y="699.92" width="2.5" height="2.5" fill="#fff" stroke="#000" stroke-width="0.95"/>
<rect x="375.35" y="716.79" width="2.5" height="2.5" fill="#fff" stroke="#000" stroke-width="0.95"/>
<rect x="333.25" y="700.86" width="2.5" height="2.5" fill="#fff" stroke="#000" stroke-width="0.95"/>
<rect x="375.35" y="714.95" width="2.5" height="2.5" fill="#fff" stroke="#000" stroke-width="0.95"/>
<rect x="333.25" y="707.99" width="2.5" height="2.5" fill="#fff" stroke="#000" stroke-width="0.95"/>
<path d="M374.9 707.48L376.6 705.78L378.3 707.48L376.6 709.18Z" fill="#fff" stroke="#7a7a7a" stroke-width="0.75"/>
<rect x="333.25" y="710.18" width="2.5" height="2.5" fill="#fff" stroke="#000" stroke-width="0.95"/>
<rect x="375.35" y="718.78" width="2.5" height="2.5" fill="#fff" stroke="#000" stroke-width="0.95"/>
<rect x="333.25" y="717.56" width="2.5" height="2.5" fill="#fff" stroke="#000" stroke-width="0.95"/>
<rect x="375.35" y="710.18" width="2.5" height="2.5" fill="#fff" stroke="#000" stroke-width="0.95"/>
<rect x="333.25" y="720.97" width="2.5" height="2.5" fill="#fff" stroke="#000" stroke-width="0.95"/>
<rect x="375.35" y="724.98" width="2.5" height="2.5" fill="#fff" stroke="#000" stroke-width="0.95"/>
<rect x="333.25" y="723.4" width="2.5" height="2.5" fill="#fff" stroke="#000" stroke-width="0.95"/>
<rect x="375.35" y="727.28" width="2.5" height="2.5" fill="#fff" stroke="#000" stroke-width="0.95"/>
<rect x="333.25" y="726.1" width="2.5" height="2.5" fill="#fff" stroke="#000" stroke-width="0.95"/>
<rect x="375.35" y="730.52" width="2.5" height="2.5" fill="#fff" stroke="#000" stroke-width="0.95"/>
<rect x="333.25" y="728.52" width="2.5" height="2.5" fill="#fff" stroke="#000" stroke-width="0.95"/>
<rect x="375.35" y="736.9" width="2.5" height="2.5" fill="#fff" stroke="#000" stroke-width="0.95"/>
<rect x="333.25" y="730.52" width="2.5" height="2.5" fill="#fff" stroke="#000" stroke-width="0.95"/>
<rect x="375.35" y="742.03" width="2.5" height="2.5" fill="#fff" stroke="#000" stroke-width="0.95"/>
<rect x="333.25" y="732.71" width="2.5" height="2.5" fill="#fff" stroke="#000" stroke-width="0.95"/>
<rect x="375.35" y="744.45" width="2.5" height="2.5" fill="#fff" stroke="#000" stroke-width="0.95"/>
<rect x="333.25" y="733.49" width="2.5" height="2.5" fill="#fff" stroke="#000" stroke-width="0.95"/>
<rect x="375.35" y="745.76" width="2.5" height="2.5" fill="#fff" stroke="#000" stroke-width="0.95"/>
<path d="M332.8 754.63L334.5 752.93L336.2 754.63L334.5 756.33Z" fill="#fff" stroke="#7a7a7a" stroke-width="0.75"/>
<circle cx="376.6" cy="761.62" r="1.4" fill="#666" stroke="#666" stroke-width="0.4"/>
<rect x="333.25" y="716.79" width="2.5" height="2.5" fill="#fff" stroke="#000" stroke-width="0.95"/>
<rect x="375.35" y="729.17" width="2.5" height="2.5" fill="#fff" stroke="#000" stroke-width="0.95"/>
<rect x="333.25" y="711.66" width="2.5" height="2.5" fill="#fff" stroke="#000" stroke-width="0.95"/>
<rect x="375.35" y="726.1" width="2.5" height="2.5" fill="#fff" stroke="#000" stroke-width="0.95"/>
<rect x="333.25" y="720.07" width="2.5" height="2.5" fill="#fff" stroke="#000" stroke-width="0.95"/>
<rect x="375.35" y="713.24" width="2.5" height="2.5" fill="#fff" stroke="#000" stroke-width="0.95"/>
<rect x="333.25" y="729.17" width="2.5" height="2.5" fill="#fff" stroke="#000" stroke-width="0.95"/>
<rect x="375.35" y="737.84" width="2.5" height="2.5" fill="#fff" stroke="#000" stroke-width="0.95"/>
<text x="334.7" y="774.9" font-size="9.2" text-anchor="middle" font-weight="normal" >Pregnancy</text>
<text x="375.7" y="774.9" font-size="9.2" text-anchor="middle" font-weight="normal" >PPM</text>
<text transform="translate(287 708.85) rotate(-90)" font-size="10.4" text-anchor="middle">Th17:Tregs (log<tspan font-size="8" dy="2.2">10</tspan><tspan dy="-2.2">)</tspan></text>
<text x="277.6" y="645.8" font-size="20" text-anchor="start" font-weight="bold" style="stroke-width:.4px">m</text>
<text x="353.5" y="657" font-size="10" text-anchor="middle" font-weight="bold" >**</text>
</g>
</svg></body></html>
